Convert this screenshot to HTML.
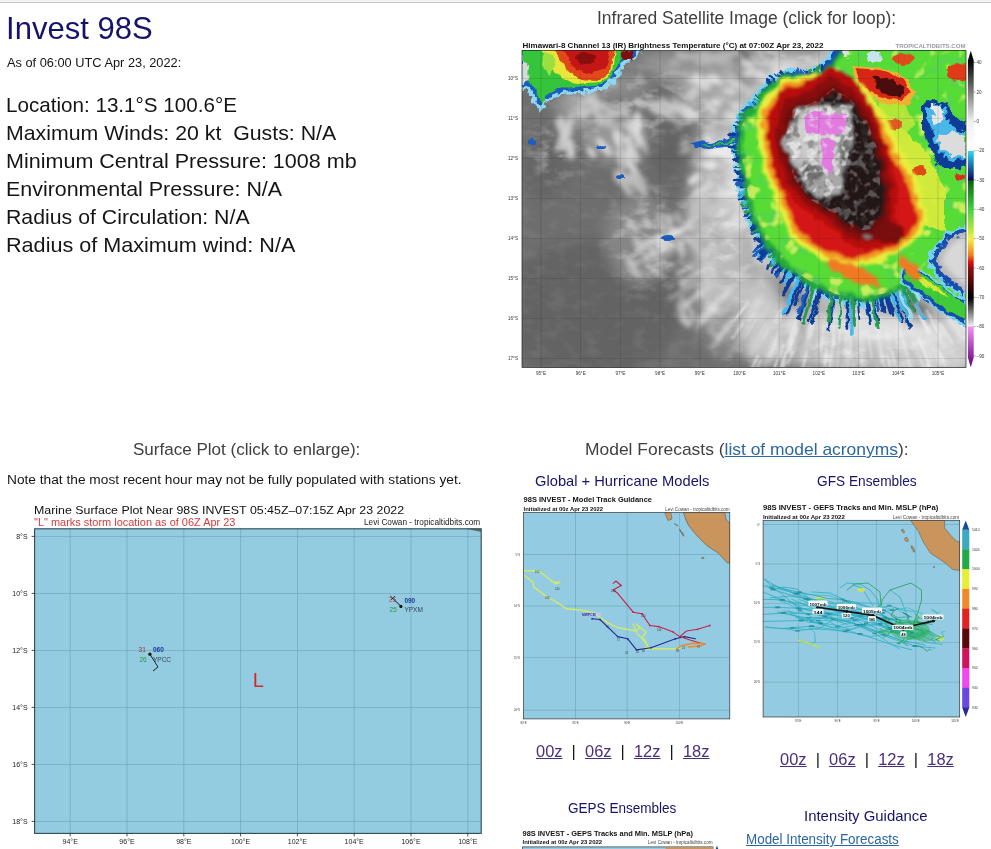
<!DOCTYPE html>
<html><head><meta charset="utf-8"><title>Invest 98S</title>
<style>
html,body{margin:0;padding:0;background:#fff;width:991px;height:849px;overflow:hidden;position:relative}
body{font-family:"Liberation Sans",sans-serif}
.t{position:absolute;white-space:nowrap;line-height:1;transform-origin:0 0}
.t a{color:#4a2f7c;text-decoration:underline}
.topbar{position:absolute;left:0;top:0;width:991px;height:2px;background:#f4f4f4;border-bottom:1px solid #c8c8c8}
svg{position:absolute;display:block}
</style></head><body>
<div class="topbar"></div>
<svg style="left:0;top:0" width="991" height="849" viewBox="0 0 991 849">
<defs>
<clipPath id="satclip"><rect x="522" y="50.5" width="444" height="317"/></clipPath>
<filter id="rough" x="-10%" y="-10%" width="120%" height="120%">
  <feTurbulence type="fractalNoise" baseFrequency="0.12" numOctaves="2" seed="3" result="n"/>
  <feDisplacementMap in="SourceGraphic" in2="n" scale="6" xChannelSelector="R" yChannelSelector="G"/>
</filter>
<filter id="roughB" x="-10%" y="-10%" width="120%" height="120%">
  <feTurbulence type="fractalNoise" baseFrequency="0.16" numOctaves="2" seed="9" result="n"/>
  <feDisplacementMap in="SourceGraphic" in2="n" scale="10" xChannelSelector="R" yChannelSelector="G"/>
</filter>
<filter id="rs" x="-10%" y="-10%" width="120%" height="120%">
  <feTurbulence type="fractalNoise" baseFrequency="0.1" numOctaves="3" seed="13" result="n"/>
  <feDisplacementMap in="SourceGraphic" in2="n" scale="9" xChannelSelector="R" yChannelSelector="G" result="d"/>
  <feGaussianBlur in="d" stdDeviation="1.6"/>
</filter>
<filter id="mot1" x="0" y="0" width="100%" height="100%">
  <feTurbulence type="fractalNoise" baseFrequency="0.09" numOctaves="2" seed="31" result="n"/>
  <feColorMatrix in="n" type="matrix" values="0 0 0 0 0.1  0 0 0 0 0.6  0 0 0 0 0.15  5 0 0 0 -2.7"/>
</filter>
<filter id="mot2" x="0" y="0" width="100%" height="100%">
  <feTurbulence type="fractalNoise" baseFrequency="0.07" numOctaves="2" seed="47" result="n"/>
  <feColorMatrix in="n" type="matrix" values="0 0 0 0 0.92  0 0 0 0 0.92  0 0 0 0 0.15  6 0 0 0 -3.5"/>
</filter>
<filter id="mot3" x="0" y="0" width="100%" height="100%">
  <feTurbulence type="fractalNoise" baseFrequency="0.1" numOctaves="2" seed="5" result="n"/>
  <feColorMatrix in="n" type="matrix" values="0 0 0 0 0.05  0 0 0 0 0.05  0 0 0 0 0.05  6 0 0 0 -3.2"/>
</filter>
<filter id="mot4" x="0" y="0" width="100%" height="100%">
  <feTurbulence type="fractalNoise" baseFrequency="0.12" numOctaves="2" seed="8" result="n"/>
  <feColorMatrix in="n" type="matrix" values="0 0 0 0 0.85  0 0 0 0 0.85  0 0 0 0 0.85  6 0 0 0 -3.0"/>
</filter>
<filter id="soft" x="-50%" y="-50%" width="200%" height="200%"><feGaussianBlur stdDeviation="7"/></filter>
<filter id="soft4" x="-50%" y="-50%" width="200%" height="200%"><feGaussianBlur stdDeviation="4"/></filter>
<filter id="soft2" x="-50%" y="-50%" width="200%" height="200%"><feGaussianBlur stdDeviation="2.5"/></filter>
<filter id="b1" x="-50%" y="-50%" width="200%" height="200%"><feGaussianBlur stdDeviation="1.2"/></filter>
<filter id="b05" x="-50%" y="-50%" width="200%" height="200%"><feGaussianBlur stdDeviation="0.5"/></filter>
<filter id="clouds" x="0" y="0" width="100%" height="100%">
  <feTurbulence type="fractalNoise" baseFrequency="0.06 0.1" numOctaves="3" seed="21" result="n"/>
  <feColorMatrix in="n" type="matrix" values="0 0 0 0 1  0 0 0 0 1  0 0 0 0 1  0 0 0 3.2 -1.45"/>
</filter>
<radialGradient id="lz" cx="0.5" cy="0.5" r="0.5"><stop offset="0" stop-color="#fff"/><stop offset="1" stop-color="#fff" stop-opacity="0"/></radialGradient>
<mask id="cm"><g fill="url(#lz)">
 <ellipse cx="650" cy="110" rx="90" ry="50"/><ellipse cx="655" cy="240" rx="60" ry="70"/><ellipse cx="730" cy="230" rx="50" ry="130"/>
 <ellipse cx="850" cy="350" rx="150" ry="50"/><ellipse cx="560" cy="150" rx="40" ry="40"/><ellipse cx="790" cy="62" rx="60" ry="25"/>
</g></mask>
</defs>
<g clip-path="url(#satclip)">
<rect x="522" y="50.5" width="444" height="317.0" fill="#6e6e6e"/>
<ellipse cx="590" cy="310" rx="90" ry="70" fill="#646464" filter="url(#soft)"/>
<ellipse cx="580" cy="105" rx="25" ry="18" fill="#a8a8a8" opacity="0.8" filter="url(#soft)"/>
<ellipse cx="615" cy="135" rx="35" ry="25" fill="#a0a0a0" opacity="0.8" filter="url(#soft)"/>
<ellipse cx="660" cy="62" rx="25" ry="10" fill="#a0a0a0" opacity="0.8" filter="url(#soft)"/>
<ellipse cx="712" cy="95" rx="35" ry="30" fill="#b0b0b0" opacity="0.85" filter="url(#soft)"/>
<ellipse cx="712" cy="205" rx="28" ry="80" fill="#bcbcbc" opacity="0.9" filter="url(#soft)"/>
<ellipse cx="722" cy="290" rx="25" ry="40" fill="#c4c4c4" opacity="0.9" filter="url(#soft)"/>
<ellipse cx="700" cy="72" rx="45" ry="14" fill="#aaaaaa" opacity="0.85" filter="url(#soft)"/>
<ellipse cx="680" cy="175" rx="15" ry="25" fill="#666666" opacity="0.7" filter="url(#soft)"/>
<ellipse cx="640" cy="240" rx="35" ry="45" fill="#8a8a8a" opacity="0.9" filter="url(#soft)"/>
<ellipse cx="545" cy="170" rx="22" ry="30" fill="#626262" opacity="0.7" filter="url(#soft)"/>
<ellipse cx="790" cy="60" rx="40" ry="12" fill="#b5b5b5" opacity="0.9" filter="url(#soft)"/>
<ellipse cx="745" cy="280" rx="30" ry="40" fill="#b8b8b8" opacity="0.9" filter="url(#soft)"/>
<ellipse cx="810" cy="335" rx="70" ry="32" fill="#b8b8b8" opacity="0.95" filter="url(#soft)"/>
<ellipse cx="890" cy="352" rx="90" ry="22" fill="#c0c0c0" opacity="0.95" filter="url(#soft)"/>
<ellipse cx="950" cy="345" rx="35" ry="30" fill="#d0d0d0" opacity="0.9" filter="url(#soft)"/>
<ellipse cx="860" cy="325" rx="40" ry="15" fill="#e0e0e0" opacity="0.9" filter="url(#soft)"/>
<ellipse cx="760" cy="322" rx="30" ry="40" fill="#c8c8c8" opacity="0.9" filter="url(#soft)"/>
<ellipse cx="900" cy="330" rx="40" ry="14" fill="#e0e0e0" opacity="0.9" filter="url(#soft)"/>
<ellipse cx="725" cy="330" rx="20" ry="30" fill="#909090" opacity="0.7" filter="url(#soft)"/>
<ellipse cx="735" cy="200" rx="12" ry="60" fill="#c8c8c8" opacity="0.9" filter="url(#soft)"/>
<ellipse cx="700" cy="60" rx="40" ry="10" fill="#8a8a8a" opacity="0.7" filter="url(#soft)"/>
<ellipse cx="620" cy="85" rx="30" ry="15" fill="#9a9a9a" opacity="0.7" filter="url(#soft)"/>
<g mask="url(#cm)"><rect x="522" y="50.5" width="444" height="317.0" filter="url(#clouds)" opacity="0.45"/></g>
<rect x="522" y="50.5" width="444" height="317.0" filter="url(#clouds)" opacity="0.06"/>
<g filter="url(#soft2)"><ellipse cx="729.8" cy="91.0" rx="6.9" ry="4.1" transform="rotate(6 729.8 91.0)" fill="#e0e0e0" opacity="0.74"/><ellipse cx="716.2" cy="102.5" rx="6.2" ry="3.6" transform="rotate(25 716.2 102.5)" fill="#e0e0e0" opacity="0.89"/><ellipse cx="686.6" cy="116.3" rx="6.4" ry="4.0" transform="rotate(25 686.6 116.3)" fill="#e0e0e0" opacity="0.88"/><ellipse cx="695.2" cy="90.9" rx="5.7" ry="3.9" transform="rotate(27 695.2 90.9)" fill="#e0e0e0" opacity="0.63"/><ellipse cx="695.7" cy="81.2" rx="6.6" ry="3.4" transform="rotate(22 695.7 81.2)" fill="#e0e0e0" opacity="0.83"/><ellipse cx="689.3" cy="111.6" rx="12.9" ry="3.8" transform="rotate(37 689.3 111.6)" fill="#e0e0e0" opacity="0.89"/><ellipse cx="690.3" cy="96.4" rx="5.6" ry="4.0" transform="rotate(27 690.3 96.4)" fill="#e0e0e0" opacity="0.59"/><ellipse cx="709.9" cy="109.1" rx="9.4" ry="2.3" transform="rotate(47 709.9 109.1)" fill="#e0e0e0" opacity="0.57"/><ellipse cx="732.2" cy="117.0" rx="11.0" ry="4.4" transform="rotate(27 732.2 117.0)" fill="#e0e0e0" opacity="0.64"/><ellipse cx="711.4" cy="107.5" rx="11.1" ry="3.0" transform="rotate(47 711.4 107.5)" fill="#e0e0e0" opacity="0.56"/><ellipse cx="712.8" cy="79.6" rx="7.9" ry="4.5" transform="rotate(6 712.8 79.6)" fill="#e0e0e0" opacity="0.94"/><ellipse cx="735.7" cy="105.5" rx="5.4" ry="3.2" transform="rotate(35 735.7 105.5)" fill="#e0e0e0" opacity="0.59"/><ellipse cx="701.7" cy="81.7" rx="11.7" ry="4.3" transform="rotate(46 701.7 81.7)" fill="#e0e0e0" opacity="0.85"/><ellipse cx="717.2" cy="80.5" rx="8.9" ry="3.9" transform="rotate(38 717.2 80.5)" fill="#e0e0e0" opacity="0.56"/><ellipse cx="590.5" cy="100.3" rx="12.4" ry="2.3" transform="rotate(55 590.5 100.3)" fill="#d8d8d8" opacity="0.74"/><ellipse cx="639.5" cy="103.1" rx="7.1" ry="3.9" transform="rotate(39 639.5 103.1)" fill="#d8d8d8" opacity="0.62"/><ellipse cx="591.4" cy="152.5" rx="6.9" ry="3.3" transform="rotate(54 591.4 152.5)" fill="#d8d8d8" opacity="0.94"/><ellipse cx="629.9" cy="131.1" rx="8.9" ry="2.7" transform="rotate(77 629.9 131.1)" fill="#d8d8d8" opacity="0.59"/><ellipse cx="624.8" cy="112.7" rx="7.2" ry="3.1" transform="rotate(44 624.8 112.7)" fill="#d8d8d8" opacity="0.79"/><ellipse cx="594.0" cy="96.1" rx="6.1" ry="2.2" transform="rotate(79 594.0 96.1)" fill="#d8d8d8" opacity="0.75"/><ellipse cx="628.0" cy="141.7" rx="6.3" ry="4.4" transform="rotate(54 628.0 141.7)" fill="#d8d8d8" opacity="0.73"/><ellipse cx="617.3" cy="136.7" rx="11.1" ry="2.5" transform="rotate(76 617.3 136.7)" fill="#d8d8d8" opacity="0.72"/><ellipse cx="604.1" cy="146.9" rx="12.0" ry="4.1" transform="rotate(51 604.1 146.9)" fill="#d8d8d8" opacity="0.92"/><ellipse cx="633.4" cy="153.2" rx="11.0" ry="4.5" transform="rotate(59 633.4 153.2)" fill="#d8d8d8" opacity="0.85"/><ellipse cx="633.7" cy="126.5" rx="9.0" ry="3.0" transform="rotate(78 633.7 126.5)" fill="#d8d8d8" opacity="0.70"/><ellipse cx="631.8" cy="128.7" rx="10.7" ry="2.8" transform="rotate(39 631.8 128.7)" fill="#d8d8d8" opacity="0.82"/><ellipse cx="598.1" cy="116.6" rx="11.3" ry="2.1" transform="rotate(81 598.1 116.6)" fill="#d8d8d8" opacity="0.79"/><ellipse cx="621.4" cy="135.6" rx="5.5" ry="2.1" transform="rotate(71 621.4 135.6)" fill="#d8d8d8" opacity="0.78"/><ellipse cx="633.9" cy="169.4" rx="7.2" ry="2.4" transform="rotate(93 633.9 169.4)" fill="#e0e0e0" opacity="0.57"/><ellipse cx="630.4" cy="157.4" rx="12.6" ry="2.2" transform="rotate(80 630.4 157.4)" fill="#e0e0e0" opacity="0.58"/><ellipse cx="628.7" cy="157.2" rx="11.8" ry="2.1" transform="rotate(82 628.7 157.2)" fill="#e0e0e0" opacity="0.61"/><ellipse cx="627.3" cy="178.9" rx="11.8" ry="2.2" transform="rotate(45 627.3 178.9)" fill="#e0e0e0" opacity="0.56"/><ellipse cx="637.9" cy="122.3" rx="11.3" ry="4.0" transform="rotate(86 637.9 122.3)" fill="#e0e0e0" opacity="0.92"/><ellipse cx="633.7" cy="169.5" rx="9.3" ry="3.7" transform="rotate(48 633.7 169.5)" fill="#e0e0e0" opacity="0.77"/><ellipse cx="643.7" cy="143.3" rx="10.7" ry="2.4" transform="rotate(69 643.7 143.3)" fill="#e0e0e0" opacity="0.77"/><ellipse cx="637.5" cy="139.3" rx="8.8" ry="2.5" transform="rotate(74 637.5 139.3)" fill="#e0e0e0" opacity="0.93"/><ellipse cx="626.8" cy="159.6" rx="9.5" ry="2.5" transform="rotate(80 626.8 159.6)" fill="#e0e0e0" opacity="0.63"/><ellipse cx="633.2" cy="179.6" rx="7.5" ry="3.7" transform="rotate(62 633.2 179.6)" fill="#e0e0e0" opacity="0.81"/><ellipse cx="621.4" cy="150.0" rx="11.3" ry="2.5" transform="rotate(63 621.4 150.0)" fill="#e0e0e0" opacity="0.64"/><ellipse cx="620.4" cy="160.2" rx="11.7" ry="3.3" transform="rotate(67 620.4 160.2)" fill="#e0e0e0" opacity="0.67"/><ellipse cx="622.7" cy="176.5" rx="8.8" ry="3.7" transform="rotate(59 622.7 176.5)" fill="#e0e0e0" opacity="0.62"/><ellipse cx="616.3" cy="137.8" rx="8.4" ry="3.3" transform="rotate(76 616.3 137.8)" fill="#e0e0e0" opacity="0.83"/><ellipse cx="570.5" cy="148.9" rx="10.5" ry="4.0" transform="rotate(92 570.5 148.9)" fill="#d0d0d0" opacity="0.74"/><ellipse cx="571.0" cy="152.2" rx="8.1" ry="4.2" transform="rotate(86 571.0 152.2)" fill="#d0d0d0" opacity="0.85"/><ellipse cx="560.3" cy="141.4" rx="12.6" ry="3.1" transform="rotate(109 560.3 141.4)" fill="#d0d0d0" opacity="0.82"/><ellipse cx="560.2" cy="122.8" rx="7.6" ry="4.4" transform="rotate(98 560.2 122.8)" fill="#d0d0d0" opacity="0.79"/><ellipse cx="570.3" cy="132.6" rx="6.2" ry="3.1" transform="rotate(110 570.3 132.6)" fill="#d0d0d0" opacity="0.62"/><ellipse cx="565.9" cy="130.6" rx="7.9" ry="2.2" transform="rotate(110 565.9 130.6)" fill="#d0d0d0" opacity="0.65"/><ellipse cx="569.5" cy="126.2" rx="8.4" ry="2.1" transform="rotate(94 569.5 126.2)" fill="#d0d0d0" opacity="0.75"/><ellipse cx="565.2" cy="127.2" rx="10.1" ry="2.1" transform="rotate(112 565.2 127.2)" fill="#d0d0d0" opacity="0.74"/><ellipse cx="567.3" cy="135.3" rx="5.2" ry="2.1" transform="rotate(101 567.3 135.3)" fill="#d0d0d0" opacity="0.74"/><ellipse cx="563.3" cy="139.4" rx="12.0" ry="3.3" transform="rotate(91 563.3 139.4)" fill="#d0d0d0" opacity="0.78"/><ellipse cx="570.5" cy="121.1" rx="10.3" ry="3.4" transform="rotate(101 570.5 121.1)" fill="#d0d0d0" opacity="0.62"/><ellipse cx="569.9" cy="148.6" rx="7.2" ry="4.4" transform="rotate(68 569.9 148.6)" fill="#d0d0d0" opacity="0.77"/><ellipse cx="561.0" cy="126.8" rx="10.1" ry="3.8" transform="rotate(89 561.0 126.8)" fill="#d0d0d0" opacity="0.65"/><ellipse cx="566.5" cy="136.1" rx="8.1" ry="3.0" transform="rotate(88 566.5 136.1)" fill="#d0d0d0" opacity="0.70"/><ellipse cx="654.7" cy="109.9" rx="7.3" ry="4.0" transform="rotate(43 654.7 109.9)" fill="#c8c8c8" opacity="0.85"/><ellipse cx="660.9" cy="109.5" rx="10.9" ry="2.6" transform="rotate(35 660.9 109.5)" fill="#c8c8c8" opacity="0.57"/><ellipse cx="680.0" cy="111.1" rx="11.2" ry="3.5" transform="rotate(37 680.0 111.1)" fill="#c8c8c8" opacity="0.72"/><ellipse cx="653.7" cy="104.1" rx="11.0" ry="4.5" transform="rotate(6 653.7 104.1)" fill="#c8c8c8" opacity="0.74"/><ellipse cx="674.4" cy="106.1" rx="6.9" ry="3.9" transform="rotate(1 674.4 106.1)" fill="#c8c8c8" opacity="0.68"/><ellipse cx="668.8" cy="109.9" rx="12.6" ry="3.2" transform="rotate(15 668.8 109.9)" fill="#c8c8c8" opacity="0.62"/><ellipse cx="675.5" cy="101.0" rx="5.1" ry="2.9" transform="rotate(35 675.5 101.0)" fill="#c8c8c8" opacity="0.65"/><ellipse cx="665.0" cy="101.8" rx="7.2" ry="4.3" transform="rotate(38 665.0 101.8)" fill="#c8c8c8" opacity="0.59"/><ellipse cx="679.7" cy="109.4" rx="6.1" ry="2.9" transform="rotate(43 679.7 109.4)" fill="#c8c8c8" opacity="0.62"/><ellipse cx="673.9" cy="118.7" rx="12.3" ry="3.9" transform="rotate(41 673.9 118.7)" fill="#c8c8c8" opacity="0.60"/><ellipse cx="671.9" cy="119.2" rx="9.2" ry="2.0" transform="rotate(10 671.9 119.2)" fill="#c8c8c8" opacity="0.73"/><ellipse cx="663.4" cy="114.5" rx="6.4" ry="2.0" transform="rotate(28 663.4 114.5)" fill="#c8c8c8" opacity="0.95"/><ellipse cx="665.5" cy="113.6" rx="10.7" ry="3.7" transform="rotate(35 665.5 113.6)" fill="#c8c8c8" opacity="0.56"/><ellipse cx="672.1" cy="108.7" rx="8.1" ry="4.0" transform="rotate(1 672.1 108.7)" fill="#c8c8c8" opacity="0.92"/><ellipse cx="730.7" cy="153.7" rx="12.4" ry="2.5" transform="rotate(-5 730.7 153.7)" fill="#f0f0f0" opacity="0.91"/><ellipse cx="714.6" cy="150.6" rx="5.8" ry="3.7" transform="rotate(-34 714.6 150.6)" fill="#f0f0f0" opacity="0.76"/><ellipse cx="683.6" cy="143.2" rx="5.9" ry="2.7" transform="rotate(-29 683.6 143.2)" fill="#f0f0f0" opacity="0.82"/><ellipse cx="713.6" cy="152.5" rx="11.5" ry="3.8" transform="rotate(-5 713.6 152.5)" fill="#f0f0f0" opacity="0.76"/><ellipse cx="728.2" cy="145.6" rx="8.0" ry="3.0" transform="rotate(-34 728.2 145.6)" fill="#f0f0f0" opacity="0.63"/><ellipse cx="719.3" cy="144.9" rx="8.4" ry="2.2" transform="rotate(-27 719.3 144.9)" fill="#f0f0f0" opacity="0.90"/><ellipse cx="730.0" cy="144.2" rx="12.3" ry="3.4" transform="rotate(2 730.0 144.2)" fill="#f0f0f0" opacity="0.61"/><ellipse cx="739.4" cy="146.1" rx="6.1" ry="2.2" transform="rotate(-32 739.4 146.1)" fill="#f0f0f0" opacity="0.55"/><ellipse cx="728.6" cy="152.9" rx="7.1" ry="2.7" transform="rotate(11 728.6 152.9)" fill="#f0f0f0" opacity="0.64"/><ellipse cx="736.0" cy="153.5" rx="8.3" ry="3.1" transform="rotate(-15 736.0 153.5)" fill="#f0f0f0" opacity="0.69"/><ellipse cx="724.2" cy="150.6" rx="12.9" ry="2.3" transform="rotate(-20 724.2 150.6)" fill="#f0f0f0" opacity="0.76"/><ellipse cx="729.5" cy="156.9" rx="11.6" ry="2.2" transform="rotate(3 729.5 156.9)" fill="#f0f0f0" opacity="0.64"/><ellipse cx="707.9" cy="138.5" rx="5.2" ry="3.1" transform="rotate(9 707.9 138.5)" fill="#f0f0f0" opacity="0.67"/><ellipse cx="683.7" cy="150.8" rx="7.2" ry="2.2" transform="rotate(-25 683.7 150.8)" fill="#f0f0f0" opacity="0.90"/><ellipse cx="753.0" cy="181.9" rx="8.8" ry="3.7" transform="rotate(-28 753.0 181.9)" fill="#e8e8e8" opacity="0.70"/><ellipse cx="744.6" cy="188.0" rx="12.1" ry="3.4" transform="rotate(-4 744.6 188.0)" fill="#e8e8e8" opacity="0.88"/><ellipse cx="706.6" cy="187.1" rx="9.4" ry="2.4" transform="rotate(-34 706.6 187.1)" fill="#e8e8e8" opacity="0.71"/><ellipse cx="756.3" cy="165.2" rx="12.7" ry="4.4" transform="rotate(-25 756.3 165.2)" fill="#e8e8e8" opacity="0.80"/><ellipse cx="711.2" cy="165.5" rx="5.2" ry="3.8" transform="rotate(-34 711.2 165.5)" fill="#e8e8e8" opacity="0.75"/><ellipse cx="710.0" cy="164.4" rx="8.1" ry="3.2" transform="rotate(3 710.0 164.4)" fill="#e8e8e8" opacity="0.76"/><ellipse cx="758.0" cy="178.4" rx="11.7" ry="3.3" transform="rotate(-44 758.0 178.4)" fill="#e8e8e8" opacity="0.92"/><ellipse cx="738.1" cy="184.8" rx="8.5" ry="2.0" transform="rotate(-1 738.1 184.8)" fill="#e8e8e8" opacity="0.57"/><ellipse cx="697.5" cy="191.9" rx="7.4" ry="2.8" transform="rotate(-31 697.5 191.9)" fill="#e8e8e8" opacity="0.74"/><ellipse cx="745.2" cy="176.0" rx="6.0" ry="3.4" transform="rotate(-27 745.2 176.0)" fill="#e8e8e8" opacity="0.91"/><ellipse cx="694.4" cy="179.1" rx="8.4" ry="4.0" transform="rotate(-36 694.4 179.1)" fill="#e8e8e8" opacity="0.87"/><ellipse cx="728.6" cy="193.9" rx="11.5" ry="3.3" transform="rotate(-9 728.6 193.9)" fill="#e8e8e8" opacity="0.60"/><ellipse cx="742.8" cy="171.6" rx="9.5" ry="2.4" transform="rotate(2 742.8 171.6)" fill="#e8e8e8" opacity="0.71"/><ellipse cx="735.9" cy="182.3" rx="10.5" ry="2.5" transform="rotate(-6 735.9 182.3)" fill="#e8e8e8" opacity="0.71"/><ellipse cx="605.7" cy="122.4" rx="10.3" ry="3.9" transform="rotate(29 605.7 122.4)" fill="#c8c8c8" opacity="0.74"/><ellipse cx="616.5" cy="111.3" rx="5.3" ry="2.8" transform="rotate(29 616.5 111.3)" fill="#c8c8c8" opacity="0.56"/><ellipse cx="583.9" cy="113.7" rx="6.4" ry="4.4" transform="rotate(11 583.9 113.7)" fill="#c8c8c8" opacity="0.67"/><ellipse cx="583.7" cy="109.2" rx="5.1" ry="3.5" transform="rotate(12 583.7 109.2)" fill="#c8c8c8" opacity="0.59"/><ellipse cx="594.1" cy="102.7" rx="7.0" ry="4.4" transform="rotate(21 594.1 102.7)" fill="#c8c8c8" opacity="0.83"/><ellipse cx="606.3" cy="116.2" rx="8.6" ry="3.1" transform="rotate(37 606.3 116.2)" fill="#c8c8c8" opacity="0.61"/><ellipse cx="581.8" cy="102.5" rx="5.2" ry="3.2" transform="rotate(10 581.8 102.5)" fill="#c8c8c8" opacity="0.73"/><ellipse cx="602.9" cy="105.8" rx="10.4" ry="3.3" transform="rotate(21 602.9 105.8)" fill="#c8c8c8" opacity="0.76"/><ellipse cx="581.3" cy="113.1" rx="6.4" ry="4.4" transform="rotate(33 581.3 113.1)" fill="#c8c8c8" opacity="0.76"/><ellipse cx="588.6" cy="101.9" rx="6.3" ry="2.9" transform="rotate(14 588.6 101.9)" fill="#c8c8c8" opacity="0.90"/><ellipse cx="591.9" cy="110.2" rx="8.1" ry="2.9" transform="rotate(14 591.9 110.2)" fill="#c8c8c8" opacity="0.82"/><ellipse cx="613.4" cy="113.6" rx="6.9" ry="3.9" transform="rotate(7 613.4 113.6)" fill="#c8c8c8" opacity="0.83"/><ellipse cx="597.5" cy="104.6" rx="12.8" ry="2.2" transform="rotate(21 597.5 104.6)" fill="#c8c8c8" opacity="0.81"/><ellipse cx="581.8" cy="118.3" rx="5.0" ry="2.4" transform="rotate(49 581.8 118.3)" fill="#c8c8c8" opacity="0.57"/><ellipse cx="641.1" cy="178.2" rx="8.1" ry="2.7" transform="rotate(48 641.1 178.2)" fill="#bcbcbc" opacity="0.80"/><ellipse cx="620.1" cy="180.2" rx="8.9" ry="4.3" transform="rotate(39 620.1 180.2)" fill="#bcbcbc" opacity="0.81"/><ellipse cx="639.2" cy="188.6" rx="11.8" ry="3.0" transform="rotate(52 639.2 188.6)" fill="#bcbcbc" opacity="0.59"/><ellipse cx="621.2" cy="176.3" rx="11.8" ry="2.4" transform="rotate(39 621.2 176.3)" fill="#bcbcbc" opacity="0.68"/><ellipse cx="623.4" cy="177.7" rx="8.5" ry="3.2" transform="rotate(41 623.4 177.7)" fill="#bcbcbc" opacity="0.82"/><ellipse cx="641.3" cy="185.7" rx="9.4" ry="2.4" transform="rotate(34 641.3 185.7)" fill="#bcbcbc" opacity="0.67"/><ellipse cx="636.1" cy="177.5" rx="8.8" ry="2.6" transform="rotate(60 636.1 177.5)" fill="#bcbcbc" opacity="0.62"/><ellipse cx="632.2" cy="181.3" rx="9.8" ry="2.1" transform="rotate(54 632.2 181.3)" fill="#bcbcbc" opacity="0.66"/><ellipse cx="626.9" cy="186.9" rx="12.4" ry="3.4" transform="rotate(41 626.9 186.9)" fill="#bcbcbc" opacity="0.59"/><ellipse cx="619.9" cy="178.6" rx="11.8" ry="2.0" transform="rotate(56 619.9 178.6)" fill="#bcbcbc" opacity="0.68"/><ellipse cx="638.1" cy="184.3" rx="12.3" ry="3.0" transform="rotate(23 638.1 184.3)" fill="#bcbcbc" opacity="0.70"/><ellipse cx="632.8" cy="177.9" rx="10.1" ry="4.1" transform="rotate(15 632.8 177.9)" fill="#bcbcbc" opacity="0.94"/><ellipse cx="625.1" cy="186.6" rx="12.4" ry="3.6" transform="rotate(62 625.1 186.6)" fill="#bcbcbc" opacity="0.85"/><ellipse cx="641.7" cy="190.4" rx="9.1" ry="2.6" transform="rotate(47 641.7 190.4)" fill="#bcbcbc" opacity="0.88"/><ellipse cx="630.4" cy="260.9" rx="8.3" ry="2.5" transform="rotate(40 630.4 260.9)" fill="#c8c8c8" opacity="0.85"/><ellipse cx="646.8" cy="221.0" rx="6.9" ry="2.1" transform="rotate(49 646.8 221.0)" fill="#c8c8c8" opacity="0.61"/><ellipse cx="646.3" cy="223.1" rx="5.1" ry="3.7" transform="rotate(82 646.3 223.1)" fill="#c8c8c8" opacity="0.84"/><ellipse cx="633.4" cy="269.0" rx="11.7" ry="4.4" transform="rotate(54 633.4 269.0)" fill="#c8c8c8" opacity="0.76"/><ellipse cx="654.7" cy="270.7" rx="12.6" ry="2.8" transform="rotate(36 654.7 270.7)" fill="#c8c8c8" opacity="0.79"/><ellipse cx="661.1" cy="222.7" rx="12.1" ry="2.2" transform="rotate(69 661.1 222.7)" fill="#c8c8c8" opacity="0.86"/><ellipse cx="670.8" cy="233.6" rx="9.0" ry="2.3" transform="rotate(70 670.8 233.6)" fill="#c8c8c8" opacity="0.94"/><ellipse cx="669.0" cy="219.8" rx="6.0" ry="4.5" transform="rotate(82 669.0 219.8)" fill="#c8c8c8" opacity="0.85"/><ellipse cx="661.7" cy="241.1" rx="10.0" ry="4.3" transform="rotate(57 661.7 241.1)" fill="#c8c8c8" opacity="0.71"/><ellipse cx="640.4" cy="242.6" rx="9.7" ry="2.6" transform="rotate(42 640.4 242.6)" fill="#c8c8c8" opacity="0.64"/><ellipse cx="633.4" cy="226.7" rx="8.4" ry="3.9" transform="rotate(55 633.4 226.7)" fill="#c8c8c8" opacity="0.82"/><ellipse cx="650.0" cy="246.9" rx="12.4" ry="2.4" transform="rotate(68 650.0 246.9)" fill="#c8c8c8" opacity="0.67"/><ellipse cx="641.8" cy="251.3" rx="12.9" ry="2.1" transform="rotate(50 641.8 251.3)" fill="#c8c8c8" opacity="0.91"/><ellipse cx="636.1" cy="242.8" rx="6.9" ry="2.3" transform="rotate(70 636.1 242.8)" fill="#c8c8c8" opacity="0.90"/><ellipse cx="695.2" cy="242.7" rx="7.3" ry="4.1" transform="rotate(62 695.2 242.7)" fill="#c0c0c0" opacity="0.64"/><ellipse cx="693.7" cy="211.0" rx="11.6" ry="3.0" transform="rotate(89 693.7 211.0)" fill="#c0c0c0" opacity="0.81"/><ellipse cx="706.9" cy="210.2" rx="7.0" ry="3.5" transform="rotate(57 706.9 210.2)" fill="#c0c0c0" opacity="0.77"/><ellipse cx="681.1" cy="240.2" rx="11.3" ry="4.3" transform="rotate(81 681.1 240.2)" fill="#c0c0c0" opacity="0.63"/><ellipse cx="681.1" cy="254.8" rx="10.2" ry="2.3" transform="rotate(78 681.1 254.8)" fill="#c0c0c0" opacity="0.67"/><ellipse cx="699.2" cy="204.3" rx="11.7" ry="2.7" transform="rotate(94 699.2 204.3)" fill="#c0c0c0" opacity="0.93"/><ellipse cx="681.4" cy="249.2" rx="8.2" ry="4.4" transform="rotate(66 681.4 249.2)" fill="#c0c0c0" opacity="0.81"/><ellipse cx="705.5" cy="202.6" rx="9.1" ry="4.4" transform="rotate(93 705.5 202.6)" fill="#c0c0c0" opacity="0.92"/><ellipse cx="693.9" cy="244.7" rx="11.9" ry="3.2" transform="rotate(47 693.9 244.7)" fill="#c0c0c0" opacity="0.86"/><ellipse cx="702.5" cy="228.3" rx="10.1" ry="2.1" transform="rotate(91 702.5 228.3)" fill="#c0c0c0" opacity="0.74"/><ellipse cx="678.1" cy="218.1" rx="7.1" ry="2.9" transform="rotate(67 678.1 218.1)" fill="#c0c0c0" opacity="0.83"/><ellipse cx="701.6" cy="205.6" rx="9.6" ry="3.9" transform="rotate(62 701.6 205.6)" fill="#c0c0c0" opacity="0.69"/><ellipse cx="674.9" cy="230.4" rx="6.0" ry="3.6" transform="rotate(46 674.9 230.4)" fill="#c0c0c0" opacity="0.93"/><ellipse cx="695.4" cy="210.8" rx="9.2" ry="2.7" transform="rotate(67 695.4 210.8)" fill="#c0c0c0" opacity="0.88"/><ellipse cx="713.2" cy="308.2" rx="10.7" ry="3.5" transform="rotate(37 713.2 308.2)" fill="#c4c4c4" opacity="0.94"/><ellipse cx="685.1" cy="320.8" rx="9.0" ry="4.2" transform="rotate(47 685.1 320.8)" fill="#c4c4c4" opacity="0.85"/><ellipse cx="715.7" cy="281.6" rx="7.3" ry="4.1" transform="rotate(58 715.7 281.6)" fill="#c4c4c4" opacity="0.71"/><ellipse cx="703.0" cy="319.2" rx="5.1" ry="4.5" transform="rotate(58 703.0 319.2)" fill="#c4c4c4" opacity="0.55"/><ellipse cx="703.4" cy="294.6" rx="7.9" ry="3.4" transform="rotate(39 703.4 294.6)" fill="#c4c4c4" opacity="0.81"/><ellipse cx="692.7" cy="316.4" rx="7.2" ry="2.8" transform="rotate(85 692.7 316.4)" fill="#c4c4c4" opacity="0.88"/><ellipse cx="704.9" cy="288.2" rx="6.1" ry="3.5" transform="rotate(57 704.9 288.2)" fill="#c4c4c4" opacity="0.87"/><ellipse cx="680.1" cy="306.4" rx="5.3" ry="3.3" transform="rotate(55 680.1 306.4)" fill="#c4c4c4" opacity="0.70"/><ellipse cx="682.4" cy="283.2" rx="6.0" ry="2.6" transform="rotate(73 682.4 283.2)" fill="#c4c4c4" opacity="0.66"/><ellipse cx="713.8" cy="289.9" rx="12.9" ry="2.3" transform="rotate(62 713.8 289.9)" fill="#c4c4c4" opacity="0.60"/><ellipse cx="708.1" cy="273.1" rx="8.0" ry="4.2" transform="rotate(48 708.1 273.1)" fill="#c4c4c4" opacity="0.71"/><ellipse cx="684.8" cy="317.0" rx="9.4" ry="2.9" transform="rotate(68 684.8 317.0)" fill="#c4c4c4" opacity="0.80"/><ellipse cx="715.0" cy="334.2" rx="10.0" ry="3.6" transform="rotate(41 715.0 334.2)" fill="#c4c4c4" opacity="0.55"/><ellipse cx="686.0" cy="304.6" rx="11.6" ry="3.7" transform="rotate(53 686.0 304.6)" fill="#c4c4c4" opacity="0.66"/><ellipse cx="724.7" cy="54.5" rx="12.7" ry="4.0" transform="rotate(-7 724.7 54.5)" fill="#b8b8b8" opacity="0.88"/><ellipse cx="707.4" cy="61.1" rx="6.0" ry="4.4" transform="rotate(8 707.4 61.1)" fill="#b8b8b8" opacity="0.86"/><ellipse cx="675.3" cy="62.9" rx="5.8" ry="2.4" transform="rotate(21 675.3 62.9)" fill="#b8b8b8" opacity="0.78"/><ellipse cx="699.9" cy="54.4" rx="11.6" ry="3.8" transform="rotate(-14 699.9 54.4)" fill="#b8b8b8" opacity="0.70"/><ellipse cx="705.8" cy="59.0" rx="8.4" ry="2.4" transform="rotate(23 705.8 59.0)" fill="#b8b8b8" opacity="0.66"/><ellipse cx="723.9" cy="60.6" rx="12.5" ry="2.2" transform="rotate(-4 723.9 60.6)" fill="#b8b8b8" opacity="0.86"/><ellipse cx="682.4" cy="55.7" rx="8.1" ry="4.0" transform="rotate(20 682.4 55.7)" fill="#b8b8b8" opacity="0.83"/><ellipse cx="700.3" cy="62.0" rx="7.4" ry="3.0" transform="rotate(-1 700.3 62.0)" fill="#b8b8b8" opacity="0.79"/><ellipse cx="725.3" cy="64.7" rx="12.3" ry="2.6" transform="rotate(11 725.3 64.7)" fill="#b8b8b8" opacity="0.69"/><ellipse cx="722.6" cy="58.2" rx="9.1" ry="2.4" transform="rotate(-15 722.6 58.2)" fill="#b8b8b8" opacity="0.91"/><ellipse cx="689.2" cy="58.4" rx="12.1" ry="2.3" transform="rotate(-6 689.2 58.4)" fill="#b8b8b8" opacity="0.57"/><ellipse cx="707.1" cy="58.2" rx="6.6" ry="4.5" transform="rotate(26 707.1 58.2)" fill="#b8b8b8" opacity="0.73"/><ellipse cx="708.5" cy="56.5" rx="10.6" ry="3.9" transform="rotate(6 708.5 56.5)" fill="#b8b8b8" opacity="0.82"/><ellipse cx="689.6" cy="55.4" rx="7.0" ry="2.4" transform="rotate(16 689.6 55.4)" fill="#b8b8b8" opacity="0.69"/><ellipse cx="783.0" cy="71.0" rx="9.7" ry="2.4" transform="rotate(-7 783.0 71.0)" fill="#c8c8c8" opacity="0.70"/><ellipse cx="775.4" cy="77.6" rx="10.7" ry="4.1" transform="rotate(-2 775.4 77.6)" fill="#c8c8c8" opacity="0.66"/><ellipse cx="748.7" cy="71.3" rx="5.9" ry="2.0" transform="rotate(-30 748.7 71.3)" fill="#c8c8c8" opacity="0.95"/><ellipse cx="780.9" cy="69.2" rx="8.2" ry="2.4" transform="rotate(-9 780.9 69.2)" fill="#c8c8c8" opacity="0.77"/><ellipse cx="747.3" cy="63.3" rx="7.1" ry="3.1" transform="rotate(9 747.3 63.3)" fill="#c8c8c8" opacity="0.94"/><ellipse cx="747.6" cy="75.3" rx="6.9" ry="3.3" transform="rotate(5 747.6 75.3)" fill="#c8c8c8" opacity="0.72"/><ellipse cx="781.1" cy="74.0" rx="7.4" ry="2.6" transform="rotate(14 781.1 74.0)" fill="#c8c8c8" opacity="0.82"/><ellipse cx="756.4" cy="63.2" rx="8.6" ry="3.6" transform="rotate(6 756.4 63.2)" fill="#c8c8c8" opacity="0.59"/><ellipse cx="787.8" cy="65.2" rx="9.5" ry="4.5" transform="rotate(-12 787.8 65.2)" fill="#c8c8c8" opacity="0.69"/><ellipse cx="774.5" cy="63.3" rx="5.9" ry="3.9" transform="rotate(-19 774.5 63.3)" fill="#c8c8c8" opacity="0.77"/><ellipse cx="759.2" cy="73.0" rx="5.5" ry="2.2" transform="rotate(-22 759.2 73.0)" fill="#c8c8c8" opacity="0.76"/><ellipse cx="776.7" cy="72.8" rx="6.5" ry="2.7" transform="rotate(7 776.7 72.8)" fill="#c8c8c8" opacity="0.89"/><ellipse cx="770.7" cy="75.8" rx="10.2" ry="2.4" transform="rotate(8 770.7 75.8)" fill="#c8c8c8" opacity="0.60"/><ellipse cx="752.6" cy="74.1" rx="12.1" ry="3.8" transform="rotate(3 752.6 74.1)" fill="#c8c8c8" opacity="0.67"/></g>
<ellipse cx="668" cy="150" rx="16" ry="28" fill="#5e5e5e" opacity="0.7" filter="url(#soft)"/>
<g filter="url(#soft2)"><line x1="693.5" y1="222.2" x2="682.1" y2="225.9" stroke="#f4f4f4" stroke-width="2.9" opacity="0.47" stroke-linecap="round"/><line x1="713.9" y1="262.7" x2="680.8" y2="285.1" stroke="#f4f4f4" stroke-width="3.1" opacity="0.45" stroke-linecap="round"/><line x1="1014.7" y1="264.5" x2="1030.7" y2="273.4" stroke="#f4f4f4" stroke-width="3.2" opacity="0.60" stroke-linecap="round"/><line x1="1001.9" y1="254.5" x2="1039.2" y2="274.5" stroke="#f4f4f4" stroke-width="2.2" opacity="0.54" stroke-linecap="round"/><line x1="708.3" y1="287.5" x2="674.9" y2="315.0" stroke="#f4f4f4" stroke-width="3.3" opacity="0.29" stroke-linecap="round"/><line x1="699.4" y1="282.6" x2="680.5" y2="296.6" stroke="#f4f4f4" stroke-width="1.7" opacity="0.34" stroke-linecap="round"/><line x1="822.7" y1="320.4" x2="816.0" y2="359.6" stroke="#f4f4f4" stroke-width="1.9" opacity="0.35" stroke-linecap="round"/><line x1="983.6" y1="294.4" x2="1011.4" y2="319.5" stroke="#f4f4f4" stroke-width="2.1" opacity="0.39" stroke-linecap="round"/><line x1="692.7" y1="264.9" x2="677.0" y2="274.2" stroke="#f4f4f4" stroke-width="4.0" opacity="0.52" stroke-linecap="round"/><line x1="910.5" y1="320.3" x2="920.4" y2="343.7" stroke="#f4f4f4" stroke-width="3.1" opacity="0.41" stroke-linecap="round"/><line x1="962.7" y1="288.2" x2="973.1" y2="298.8" stroke="#f4f4f4" stroke-width="2.8" opacity="0.46" stroke-linecap="round"/><line x1="796.6" y1="307.6" x2="787.0" y2="333.0" stroke="#f4f4f4" stroke-width="3.5" opacity="0.45" stroke-linecap="round"/><line x1="902.6" y1="336.7" x2="909.6" y2="357.8" stroke="#f4f4f4" stroke-width="3.5" opacity="0.25" stroke-linecap="round"/><line x1="984.4" y1="276.9" x2="995.1" y2="285.2" stroke="#f4f4f4" stroke-width="2.0" opacity="0.58" stroke-linecap="round"/><line x1="733.4" y1="286.7" x2="723.3" y2="296.9" stroke="#f4f4f4" stroke-width="3.3" opacity="0.50" stroke-linecap="round"/><line x1="961.5" y1="300.7" x2="982.0" y2="323.9" stroke="#f4f4f4" stroke-width="1.7" opacity="0.29" stroke-linecap="round"/><line x1="1014.8" y1="267.2" x2="1033.0" y2="277.6" stroke="#f4f4f4" stroke-width="2.3" opacity="0.26" stroke-linecap="round"/><line x1="776.9" y1="308.7" x2="764.5" y2="332.6" stroke="#f4f4f4" stroke-width="2.4" opacity="0.37" stroke-linecap="round"/><line x1="991.1" y1="261.0" x2="1026.0" y2="282.8" stroke="#f4f4f4" stroke-width="3.9" opacity="0.57" stroke-linecap="round"/><line x1="694.7" y1="281.4" x2="669.1" y2="299.7" stroke="#f4f4f4" stroke-width="3.0" opacity="0.50" stroke-linecap="round"/><line x1="677.1" y1="241.7" x2="649.3" y2="253.1" stroke="#f4f4f4" stroke-width="3.3" opacity="0.55" stroke-linecap="round"/><line x1="821.5" y1="310.9" x2="816.2" y2="338.7" stroke="#f4f4f4" stroke-width="2.4" opacity="0.29" stroke-linecap="round"/><line x1="998.2" y1="266.7" x2="1034.2" y2="289.4" stroke="#f4f4f4" stroke-width="2.9" opacity="0.54" stroke-linecap="round"/><line x1="955.2" y1="293.5" x2="982.3" y2="324.2" stroke="#f4f4f4" stroke-width="3.2" opacity="0.50" stroke-linecap="round"/><line x1="918.5" y1="327.0" x2="927.1" y2="345.9" stroke="#f4f4f4" stroke-width="2.0" opacity="0.31" stroke-linecap="round"/><line x1="947.9" y1="286.5" x2="963.0" y2="303.8" stroke="#f4f4f4" stroke-width="3.7" opacity="0.44" stroke-linecap="round"/><line x1="886.2" y1="334.3" x2="894.9" y2="371.2" stroke="#f4f4f4" stroke-width="2.1" opacity="0.57" stroke-linecap="round"/><line x1="684.2" y1="230.6" x2="671.5" y2="235.2" stroke="#f4f4f4" stroke-width="3.2" opacity="0.57" stroke-linecap="round"/><line x1="885.1" y1="321.1" x2="889.2" y2="337.8" stroke="#f4f4f4" stroke-width="1.8" opacity="0.48" stroke-linecap="round"/><line x1="925.7" y1="336.0" x2="935.4" y2="356.5" stroke="#f4f4f4" stroke-width="1.8" opacity="0.48" stroke-linecap="round"/><line x1="693.6" y1="227.3" x2="652.1" y2="242.2" stroke="#f4f4f4" stroke-width="3.2" opacity="0.52" stroke-linecap="round"/><line x1="682.2" y1="245.7" x2="655.5" y2="257.6" stroke="#f4f4f4" stroke-width="1.9" opacity="0.39" stroke-linecap="round"/><line x1="812.5" y1="319.4" x2="807.1" y2="342.0" stroke="#f4f4f4" stroke-width="2.5" opacity="0.54" stroke-linecap="round"/><line x1="900.6" y1="341.8" x2="905.6" y2="358.1" stroke="#f4f4f4" stroke-width="3.1" opacity="0.42" stroke-linecap="round"/><line x1="917.9" y1="332.0" x2="934.1" y2="369.1" stroke="#f4f4f4" stroke-width="1.8" opacity="0.53" stroke-linecap="round"/><line x1="985.6" y1="269.2" x2="1020.2" y2="293.6" stroke="#f4f4f4" stroke-width="3.9" opacity="0.57" stroke-linecap="round"/><line x1="894.6" y1="336.7" x2="905.4" y2="374.9" stroke="#f4f4f4" stroke-width="1.7" opacity="0.54" stroke-linecap="round"/><line x1="733.5" y1="318.7" x2="718.3" y2="338.2" stroke="#f4f4f4" stroke-width="3.1" opacity="0.52" stroke-linecap="round"/><line x1="832.6" y1="340.2" x2="831.1" y2="356.6" stroke="#f4f4f4" stroke-width="1.6" opacity="0.33" stroke-linecap="round"/><line x1="680.2" y1="230.7" x2="641.1" y2="244.4" stroke="#f4f4f4" stroke-width="3.9" opacity="0.57" stroke-linecap="round"/><line x1="813.5" y1="320.5" x2="807.1" y2="348.3" stroke="#f4f4f4" stroke-width="3.4" opacity="0.50" stroke-linecap="round"/><line x1="983.2" y1="252.0" x2="993.7" y2="258.2" stroke="#f4f4f4" stroke-width="2.1" opacity="0.39" stroke-linecap="round"/><line x1="887.8" y1="338.8" x2="895.5" y2="371.1" stroke="#f4f4f4" stroke-width="2.2" opacity="0.37" stroke-linecap="round"/><line x1="688.5" y1="266.2" x2="678.1" y2="272.4" stroke="#f4f4f4" stroke-width="2.3" opacity="0.54" stroke-linecap="round"/><line x1="819.3" y1="317.9" x2="814.9" y2="340.0" stroke="#f4f4f4" stroke-width="3.2" opacity="0.31" stroke-linecap="round"/><line x1="938.6" y1="326.7" x2="949.9" y2="346.1" stroke="#f4f4f4" stroke-width="2.5" opacity="0.60" stroke-linecap="round"/><line x1="690.0" y1="237.4" x2="679.6" y2="241.7" stroke="#f4f4f4" stroke-width="1.9" opacity="0.59" stroke-linecap="round"/><line x1="758.8" y1="299.5" x2="736.6" y2="331.3" stroke="#f4f4f4" stroke-width="3.7" opacity="0.50" stroke-linecap="round"/><line x1="1004.6" y1="258.1" x2="1020.8" y2="267.0" stroke="#f4f4f4" stroke-width="2.1" opacity="0.39" stroke-linecap="round"/><line x1="875.6" y1="345.7" x2="878.9" y2="366.8" stroke="#f4f4f4" stroke-width="1.9" opacity="0.30" stroke-linecap="round"/><line x1="847.2" y1="323.1" x2="847.0" y2="358.3" stroke="#f4f4f4" stroke-width="3.1" opacity="0.51" stroke-linecap="round"/><line x1="960.4" y1="302.0" x2="981.7" y2="326.6" stroke="#f4f4f4" stroke-width="1.6" opacity="0.39" stroke-linecap="round"/><line x1="772.1" y1="302.4" x2="752.0" y2="336.9" stroke="#f4f4f4" stroke-width="2.0" opacity="0.29" stroke-linecap="round"/><line x1="746.7" y1="328.3" x2="728.0" y2="357.2" stroke="#f4f4f4" stroke-width="2.8" opacity="0.36" stroke-linecap="round"/><line x1="934.8" y1="292.9" x2="945.0" y2="307.1" stroke="#f4f4f4" stroke-width="3.1" opacity="0.34" stroke-linecap="round"/><line x1="691.5" y1="225.6" x2="672.9" y2="232.0" stroke="#f4f4f4" stroke-width="2.5" opacity="0.58" stroke-linecap="round"/><line x1="893.7" y1="313.9" x2="903.6" y2="344.5" stroke="#f4f4f4" stroke-width="1.7" opacity="0.41" stroke-linecap="round"/><line x1="957.2" y1="323.8" x2="971.3" y2="343.4" stroke="#f4f4f4" stroke-width="2.8" opacity="0.58" stroke-linecap="round"/><line x1="761.3" y1="335.1" x2="750.2" y2="355.9" stroke="#f4f4f4" stroke-width="3.7" opacity="0.40" stroke-linecap="round"/><line x1="931.4" y1="335.0" x2="944.8" y2="361.2" stroke="#f4f4f4" stroke-width="1.9" opacity="0.45" stroke-linecap="round"/><line x1="764.8" y1="298.1" x2="750.7" y2="319.4" stroke="#f4f4f4" stroke-width="2.6" opacity="0.31" stroke-linecap="round"/><line x1="758.3" y1="311.1" x2="742.7" y2="335.5" stroke="#f4f4f4" stroke-width="2.8" opacity="0.47" stroke-linecap="round"/><line x1="727.1" y1="291.8" x2="697.6" y2="321.0" stroke="#f4f4f4" stroke-width="3.8" opacity="0.41" stroke-linecap="round"/><line x1="976.0" y1="286.4" x2="993.2" y2="301.7" stroke="#f4f4f4" stroke-width="3.7" opacity="0.36" stroke-linecap="round"/><line x1="982.4" y1="262.6" x2="1015.4" y2="284.8" stroke="#f4f4f4" stroke-width="1.8" opacity="0.57" stroke-linecap="round"/><line x1="861.4" y1="333.2" x2="864.2" y2="365.8" stroke="#f4f4f4" stroke-width="3.7" opacity="0.29" stroke-linecap="round"/><line x1="799.7" y1="313.4" x2="787.1" y2="350.5" stroke="#f4f4f4" stroke-width="3.4" opacity="0.34" stroke-linecap="round"/><line x1="901.4" y1="344.9" x2="912.9" y2="382.3" stroke="#f4f4f4" stroke-width="3.4" opacity="0.26" stroke-linecap="round"/><line x1="946.4" y1="312.0" x2="956.2" y2="325.9" stroke="#f4f4f4" stroke-width="2.8" opacity="0.25" stroke-linecap="round"/><line x1="848.1" y1="331.1" x2="848.1" y2="365.9" stroke="#f4f4f4" stroke-width="2.4" opacity="0.57" stroke-linecap="round"/><line x1="924.7" y1="295.9" x2="937.5" y2="316.6" stroke="#f4f4f4" stroke-width="1.9" opacity="0.58" stroke-linecap="round"/><line x1="699.1" y1="293.3" x2="685.3" y2="304.5" stroke="#f4f4f4" stroke-width="3.7" opacity="0.57" stroke-linecap="round"/><line x1="926.5" y1="330.5" x2="936.1" y2="349.9" stroke="#f4f4f4" stroke-width="2.0" opacity="0.49" stroke-linecap="round"/><line x1="897.8" y1="317.8" x2="907.4" y2="345.9" stroke="#f4f4f4" stroke-width="3.1" opacity="0.26" stroke-linecap="round"/><line x1="1002.4" y1="261.6" x2="1014.6" y2="268.7" stroke="#f4f4f4" stroke-width="1.8" opacity="0.58" stroke-linecap="round"/><line x1="674.2" y1="246.5" x2="635.3" y2="263.1" stroke="#f4f4f4" stroke-width="3.2" opacity="0.57" stroke-linecap="round"/><line x1="1001.6" y1="250.5" x2="1022.3" y2="261.2" stroke="#f4f4f4" stroke-width="2.3" opacity="0.34" stroke-linecap="round"/><line x1="909.7" y1="333.1" x2="923.6" y2="369.6" stroke="#f4f4f4" stroke-width="3.8" opacity="0.39" stroke-linecap="round"/><line x1="793.8" y1="313.6" x2="786.9" y2="331.9" stroke="#f4f4f4" stroke-width="3.8" opacity="0.44" stroke-linecap="round"/><line x1="985.4" y1="277.4" x2="1014.4" y2="299.6" stroke="#f4f4f4" stroke-width="3.2" opacity="0.29" stroke-linecap="round"/><line x1="876.9" y1="322.8" x2="880.0" y2="339.2" stroke="#f4f4f4" stroke-width="2.1" opacity="0.54" stroke-linecap="round"/><line x1="807.1" y1="340.4" x2="801.9" y2="361.8" stroke="#f4f4f4" stroke-width="3.6" opacity="0.25" stroke-linecap="round"/><line x1="893.8" y1="314.2" x2="899.4" y2="331.5" stroke="#f4f4f4" stroke-width="3.3" opacity="0.31" stroke-linecap="round"/><line x1="695.9" y1="267.6" x2="662.1" y2="288.9" stroke="#f4f4f4" stroke-width="1.6" opacity="0.27" stroke-linecap="round"/><line x1="1018.5" y1="273.1" x2="1041.4" y2="286.7" stroke="#f4f4f4" stroke-width="1.6" opacity="0.35" stroke-linecap="round"/><line x1="889.8" y1="317.9" x2="895.2" y2="336.8" stroke="#f4f4f4" stroke-width="2.1" opacity="0.34" stroke-linecap="round"/><line x1="859.3" y1="316.2" x2="861.5" y2="344.1" stroke="#f4f4f4" stroke-width="3.5" opacity="0.31" stroke-linecap="round"/><line x1="773.3" y1="326.3" x2="764.6" y2="344.3" stroke="#f4f4f4" stroke-width="2.5" opacity="0.30" stroke-linecap="round"/><line x1="777.3" y1="340.2" x2="764.1" y2="371.5" stroke="#f4f4f4" stroke-width="2.0" opacity="0.40" stroke-linecap="round"/><line x1="829.1" y1="322.3" x2="824.2" y2="361.0" stroke="#f4f4f4" stroke-width="3.7" opacity="0.41" stroke-linecap="round"/><line x1="947.4" y1="318.5" x2="962.3" y2="340.5" stroke="#f4f4f4" stroke-width="3.3" opacity="0.56" stroke-linecap="round"/><line x1="667.5" y1="240.9" x2="650.5" y2="247.4" stroke="#f4f4f4" stroke-width="2.9" opacity="0.50" stroke-linecap="round"/><line x1="973.1" y1="314.9" x2="985.7" y2="329.3" stroke="#f4f4f4" stroke-width="3.6" opacity="0.26" stroke-linecap="round"/><line x1="969.5" y1="264.9" x2="980.4" y2="273.2" stroke="#f4f4f4" stroke-width="1.7" opacity="0.28" stroke-linecap="round"/><line x1="734.2" y1="318.6" x2="712.4" y2="346.7" stroke="#f4f4f4" stroke-width="3.5" opacity="0.52" stroke-linecap="round"/><line x1="956.5" y1="295.5" x2="964.4" y2="304.6" stroke="#f4f4f4" stroke-width="1.9" opacity="0.32" stroke-linecap="round"/><line x1="847.3" y1="348.9" x2="847.2" y2="369.6" stroke="#f4f4f4" stroke-width="3.2" opacity="0.48" stroke-linecap="round"/><line x1="903.9" y1="305.1" x2="910.4" y2="320.6" stroke="#f4f4f4" stroke-width="2.0" opacity="0.43" stroke-linecap="round"/><line x1="909.8" y1="329.1" x2="920.4" y2="356.0" stroke="#f4f4f4" stroke-width="1.8" opacity="0.55" stroke-linecap="round"/><line x1="865.5" y1="319.7" x2="866.8" y2="330.6" stroke="#f4f4f4" stroke-width="2.7" opacity="0.29" stroke-linecap="round"/><line x1="743.4" y1="288.9" x2="732.7" y2="300.8" stroke="#f4f4f4" stroke-width="2.6" opacity="0.28" stroke-linecap="round"/><line x1="677.6" y1="263.6" x2="665.4" y2="270.1" stroke="#f4f4f4" stroke-width="2.1" opacity="0.54" stroke-linecap="round"/><line x1="729.1" y1="296.0" x2="706.8" y2="319.3" stroke="#f4f4f4" stroke-width="2.6" opacity="0.46" stroke-linecap="round"/><line x1="779.5" y1="331.0" x2="763.8" y2="367.7" stroke="#f4f4f4" stroke-width="2.8" opacity="0.30" stroke-linecap="round"/><line x1="715.2" y1="308.8" x2="695.9" y2="328.7" stroke="#f4f4f4" stroke-width="3.8" opacity="0.51" stroke-linecap="round"/><line x1="727.5" y1="308.1" x2="707.7" y2="330.4" stroke="#f4f4f4" stroke-width="1.8" opacity="0.30" stroke-linecap="round"/><line x1="696.1" y1="272.0" x2="682.2" y2="281.1" stroke="#f4f4f4" stroke-width="2.1" opacity="0.56" stroke-linecap="round"/><line x1="977.8" y1="290.1" x2="1003.9" y2="313.9" stroke="#f4f4f4" stroke-width="2.2" opacity="0.26" stroke-linecap="round"/><line x1="881.1" y1="336.3" x2="888.3" y2="372.1" stroke="#f4f4f4" stroke-width="3.0" opacity="0.28" stroke-linecap="round"/><line x1="951.9" y1="304.5" x2="963.3" y2="319.0" stroke="#f4f4f4" stroke-width="1.8" opacity="0.30" stroke-linecap="round"/><line x1="730.7" y1="287.3" x2="703.7" y2="314.0" stroke="#f4f4f4" stroke-width="3.9" opacity="0.37" stroke-linecap="round"/><line x1="769.1" y1="303.6" x2="759.3" y2="319.8" stroke="#f4f4f4" stroke-width="2.1" opacity="0.43" stroke-linecap="round"/><line x1="992.4" y1="289.9" x2="1018.3" y2="311.1" stroke="#f4f4f4" stroke-width="1.8" opacity="0.35" stroke-linecap="round"/><line x1="939.4" y1="331.0" x2="958.5" y2="364.1" stroke="#f4f4f4" stroke-width="2.0" opacity="0.47" stroke-linecap="round"/><line x1="734.9" y1="299.3" x2="721.9" y2="313.9" stroke="#f4f4f4" stroke-width="3.6" opacity="0.25" stroke-linecap="round"/><line x1="675.6" y1="252.5" x2="646.6" y2="266.0" stroke="#f4f4f4" stroke-width="2.2" opacity="0.28" stroke-linecap="round"/><line x1="878.2" y1="330.4" x2="883.3" y2="357.2" stroke="#f4f4f4" stroke-width="2.0" opacity="0.38" stroke-linecap="round"/><line x1="951.6" y1="280.4" x2="970.2" y2="300.0" stroke="#f4f4f4" stroke-width="2.7" opacity="0.46" stroke-linecap="round"/><line x1="860.0" y1="338.3" x2="862.8" y2="376.5" stroke="#f4f4f4" stroke-width="2.5" opacity="0.45" stroke-linecap="round"/><line x1="823.9" y1="330.1" x2="822.4" y2="340.1" stroke="#f4f4f4" stroke-width="1.7" opacity="0.45" stroke-linecap="round"/><line x1="738.9" y1="124.4" x2="724.3" y2="118.1" stroke="#f4f4f4" stroke-width="1.7" opacity="0.49" stroke-linecap="round"/><line x1="749.3" y1="117.6" x2="738.8" y2="111.8" stroke="#f4f4f4" stroke-width="2.0" opacity="0.35" stroke-linecap="round"/><line x1="725.3" y1="124.6" x2="705.8" y2="117.1" stroke="#f4f4f4" stroke-width="3.1" opacity="0.36" stroke-linecap="round"/><line x1="723.1" y1="165.4" x2="696.6" y2="163.9" stroke="#f4f4f4" stroke-width="3.3" opacity="0.50" stroke-linecap="round"/><line x1="729.5" y1="210.1" x2="720.0" y2="213.2" stroke="#f4f4f4" stroke-width="1.9" opacity="0.40" stroke-linecap="round"/><line x1="745.6" y1="119.8" x2="729.5" y2="111.7" stroke="#f4f4f4" stroke-width="2.1" opacity="0.29" stroke-linecap="round"/><line x1="757.2" y1="60.6" x2="739.6" y2="38.9" stroke="#f4f4f4" stroke-width="1.8" opacity="0.54" stroke-linecap="round"/><line x1="777.7" y1="75.1" x2="768.8" y2="63.0" stroke="#f4f4f4" stroke-width="2.1" opacity="0.32" stroke-linecap="round"/><line x1="727.0" y1="125.9" x2="707.1" y2="118.3" stroke="#f4f4f4" stroke-width="3.3" opacity="0.46" stroke-linecap="round"/><line x1="747.8" y1="96.2" x2="727.2" y2="80.6" stroke="#f4f4f4" stroke-width="1.8" opacity="0.41" stroke-linecap="round"/><line x1="733.1" y1="192.7" x2="716.9" y2="195.6" stroke="#f4f4f4" stroke-width="1.7" opacity="0.43" stroke-linecap="round"/><line x1="730.0" y1="201.7" x2="710.6" y2="206.5" stroke="#f4f4f4" stroke-width="2.4" opacity="0.56" stroke-linecap="round"/><line x1="727.1" y1="132.7" x2="699.5" y2="123.7" stroke="#f4f4f4" stroke-width="2.4" opacity="0.55" stroke-linecap="round"/><line x1="742.8" y1="161.2" x2="729.9" y2="159.9" stroke="#f4f4f4" stroke-width="2.0" opacity="0.48" stroke-linecap="round"/><line x1="728.0" y1="211.7" x2="713.7" y2="216.5" stroke="#f4f4f4" stroke-width="2.8" opacity="0.57" stroke-linecap="round"/><line x1="734.8" y1="105.9" x2="716.0" y2="94.9" stroke="#f4f4f4" stroke-width="2.6" opacity="0.42" stroke-linecap="round"/><line x1="750.8" y1="92.9" x2="736.9" y2="81.6" stroke="#f4f4f4" stroke-width="3.1" opacity="0.51" stroke-linecap="round"/><line x1="748.0" y1="238.9" x2="734.9" y2="247.7" stroke="#f4f4f4" stroke-width="2.0" opacity="0.29" stroke-linecap="round"/><line x1="731.1" y1="146.8" x2="709.7" y2="142.2" stroke="#f4f4f4" stroke-width="2.3" opacity="0.53" stroke-linecap="round"/><line x1="736.4" y1="85.2" x2="729.2" y2="79.5" stroke="#f4f4f4" stroke-width="3.1" opacity="0.59" stroke-linecap="round"/><line x1="730.7" y1="138.0" x2="703.5" y2="130.1" stroke="#f4f4f4" stroke-width="2.1" opacity="0.54" stroke-linecap="round"/><line x1="719.2" y1="146.5" x2="695.2" y2="141.8" stroke="#f4f4f4" stroke-width="2.4" opacity="0.30" stroke-linecap="round"/><line x1="724.6" y1="186.3" x2="709.4" y2="188.1" stroke="#f4f4f4" stroke-width="1.9" opacity="0.34" stroke-linecap="round"/><line x1="727.7" y1="144.6" x2="704.1" y2="139.2" stroke="#f4f4f4" stroke-width="1.6" opacity="0.46" stroke-linecap="round"/><line x1="736.4" y1="227.7" x2="724.6" y2="233.6" stroke="#f4f4f4" stroke-width="2.9" opacity="0.42" stroke-linecap="round"/><line x1="735.3" y1="221.3" x2="718.4" y2="228.7" stroke="#f4f4f4" stroke-width="2.9" opacity="0.56" stroke-linecap="round"/><line x1="770.9" y1="40.4" x2="765.6" y2="31.2" stroke="#f4f4f4" stroke-width="2.6" opacity="0.39" stroke-linecap="round"/><line x1="760.8" y1="86.5" x2="739.0" y2="65.1" stroke="#f4f4f4" stroke-width="1.8" opacity="0.30" stroke-linecap="round"/><line x1="733.7" y1="191.6" x2="708.2" y2="195.9" stroke="#f4f4f4" stroke-width="2.3" opacity="0.45" stroke-linecap="round"/><line x1="768.7" y1="84.2" x2="754.7" y2="68.8" stroke="#f4f4f4" stroke-width="2.8" opacity="0.50" stroke-linecap="round"/><line x1="743.2" y1="232.0" x2="723.2" y2="243.5" stroke="#f4f4f4" stroke-width="1.8" opacity="0.25" stroke-linecap="round"/><line x1="761.5" y1="92.4" x2="746.2" y2="78.3" stroke="#f4f4f4" stroke-width="2.2" opacity="0.40" stroke-linecap="round"/><line x1="752.2" y1="69.3" x2="734.4" y2="50.3" stroke="#f4f4f4" stroke-width="3.2" opacity="0.55" stroke-linecap="round"/><line x1="760.6" y1="97.9" x2="743.7" y2="83.5" stroke="#f4f4f4" stroke-width="1.8" opacity="0.57" stroke-linecap="round"/><line x1="741.8" y1="83.5" x2="725.4" y2="69.8" stroke="#f4f4f4" stroke-width="2.3" opacity="0.36" stroke-linecap="round"/><line x1="762.8" y1="51.7" x2="755.5" y2="41.4" stroke="#f4f4f4" stroke-width="1.7" opacity="0.48" stroke-linecap="round"/><line x1="727.6" y1="186.3" x2="706.2" y2="188.8" stroke="#f4f4f4" stroke-width="2.4" opacity="0.29" stroke-linecap="round"/><line x1="719.2" y1="136.6" x2="701.5" y2="131.7" stroke="#f4f4f4" stroke-width="1.8" opacity="0.30" stroke-linecap="round"/><line x1="770.7" y1="53.2" x2="761.4" y2="38.8" stroke="#f4f4f4" stroke-width="2.5" opacity="0.56" stroke-linecap="round"/><line x1="737.3" y1="156.8" x2="711.2" y2="153.2" stroke="#f4f4f4" stroke-width="2.7" opacity="0.42" stroke-linecap="round"/><line x1="727.5" y1="208.3" x2="708.1" y2="214.2" stroke="#f4f4f4" stroke-width="2.0" opacity="0.60" stroke-linecap="round"/><line x1="726.5" y1="143.0" x2="705.7" y2="138.1" stroke="#f4f4f4" stroke-width="1.8" opacity="0.26" stroke-linecap="round"/><line x1="765.7" y1="75.1" x2="753.0" y2="60.1" stroke="#f4f4f4" stroke-width="1.9" opacity="0.46" stroke-linecap="round"/><line x1="750.7" y1="95.1" x2="735.8" y2="83.4" stroke="#f4f4f4" stroke-width="1.9" opacity="0.46" stroke-linecap="round"/><line x1="719.6" y1="182.1" x2="692.6" y2="184.3" stroke="#f4f4f4" stroke-width="1.5" opacity="0.46" stroke-linecap="round"/><line x1="735.4" y1="174.7" x2="722.1" y2="175.1" stroke="#f4f4f4" stroke-width="2.1" opacity="0.28" stroke-linecap="round"/><line x1="747.3" y1="213.7" x2="732.9" y2="219.7" stroke="#f4f4f4" stroke-width="3.4" opacity="0.37" stroke-linecap="round"/><line x1="765.7" y1="83.6" x2="748.1" y2="64.6" stroke="#f4f4f4" stroke-width="3.4" opacity="0.32" stroke-linecap="round"/><line x1="728.6" y1="120.8" x2="721.0" y2="117.5" stroke="#f4f4f4" stroke-width="1.6" opacity="0.40" stroke-linecap="round"/><line x1="733.0" y1="191.4" x2="713.4" y2="194.7" stroke="#f4f4f4" stroke-width="3.1" opacity="0.34" stroke-linecap="round"/><line x1="763.2" y1="82.0" x2="746.2" y2="64.0" stroke="#f4f4f4" stroke-width="3.3" opacity="0.29" stroke-linecap="round"/><line x1="781.5" y1="74.5" x2="775.2" y2="65.3" stroke="#f4f4f4" stroke-width="2.7" opacity="0.46" stroke-linecap="round"/><line x1="764.4" y1="60.7" x2="756.3" y2="50.0" stroke="#f4f4f4" stroke-width="2.6" opacity="0.59" stroke-linecap="round"/><line x1="750.9" y1="74.8" x2="740.5" y2="64.4" stroke="#f4f4f4" stroke-width="2.4" opacity="0.45" stroke-linecap="round"/><line x1="737.5" y1="218.6" x2="720.7" y2="225.7" stroke="#f4f4f4" stroke-width="2.3" opacity="0.52" stroke-linecap="round"/><line x1="729.4" y1="191.6" x2="700.9" y2="196.3" stroke="#f4f4f4" stroke-width="2.7" opacity="0.43" stroke-linecap="round"/><line x1="741.4" y1="91.6" x2="724.3" y2="78.7" stroke="#f4f4f4" stroke-width="2.2" opacity="0.45" stroke-linecap="round"/><line x1="770.3" y1="66.1" x2="755.4" y2="45.8" stroke="#f4f4f4" stroke-width="2.0" opacity="0.43" stroke-linecap="round"/><line x1="734.2" y1="182.6" x2="721.8" y2="183.8" stroke="#f4f4f4" stroke-width="1.8" opacity="0.28" stroke-linecap="round"/><line x1="727.6" y1="241.7" x2="707.0" y2="253.6" stroke="#f4f4f4" stroke-width="1.9" opacity="0.41" stroke-linecap="round"/></g>
<g filter="url(#b1)"><line x1="831.3" y1="313.6" x2="829.7" y2="327.1" stroke="#f0f0f0" stroke-width="1.3" opacity="0.80" stroke-linecap="round"/><line x1="796.8" y1="326.0" x2="789.3" y2="348.5" stroke="#f0f0f0" stroke-width="1.6" opacity="0.88" stroke-linecap="round"/><line x1="850.6" y1="328.7" x2="850.9" y2="350.9" stroke="#f0f0f0" stroke-width="1.3" opacity="0.86" stroke-linecap="round"/><line x1="824.5" y1="326.4" x2="821.0" y2="349.8" stroke="#f0f0f0" stroke-width="1.2" opacity="0.76" stroke-linecap="round"/><line x1="932.1" y1="323.0" x2="946.2" y2="348.3" stroke="#f0f0f0" stroke-width="1.6" opacity="0.81" stroke-linecap="round"/><line x1="846.0" y1="327.4" x2="845.8" y2="342.8" stroke="#f0f0f0" stroke-width="1.0" opacity="0.58" stroke-linecap="round"/><line x1="963.6" y1="336.3" x2="974.7" y2="352.1" stroke="#f0f0f0" stroke-width="2.1" opacity="0.74" stroke-linecap="round"/><line x1="960.7" y1="324.3" x2="969.3" y2="335.8" stroke="#f0f0f0" stroke-width="2.1" opacity="0.56" stroke-linecap="round"/><line x1="919.0" y1="340.5" x2="930.5" y2="367.8" stroke="#f0f0f0" stroke-width="2.1" opacity="0.76" stroke-linecap="round"/><line x1="748.4" y1="301.6" x2="736.5" y2="317.0" stroke="#f0f0f0" stroke-width="2.0" opacity="0.53" stroke-linecap="round"/><line x1="836.1" y1="305.8" x2="834.7" y2="322.0" stroke="#f0f0f0" stroke-width="1.0" opacity="0.63" stroke-linecap="round"/><line x1="858.3" y1="313.7" x2="860.2" y2="339.3" stroke="#f0f0f0" stroke-width="1.1" opacity="0.58" stroke-linecap="round"/><line x1="798.2" y1="327.5" x2="790.5" y2="351.5" stroke="#f0f0f0" stroke-width="1.4" opacity="0.78" stroke-linecap="round"/><line x1="948.4" y1="308.9" x2="964.6" y2="330.9" stroke="#f0f0f0" stroke-width="1.7" opacity="0.80" stroke-linecap="round"/><line x1="877.4" y1="327.8" x2="879.6" y2="339.5" stroke="#f0f0f0" stroke-width="1.2" opacity="0.57" stroke-linecap="round"/><line x1="780.1" y1="309.9" x2="773.9" y2="322.6" stroke="#f0f0f0" stroke-width="1.7" opacity="0.81" stroke-linecap="round"/><line x1="920.3" y1="357.5" x2="924.8" y2="369.0" stroke="#f0f0f0" stroke-width="2.0" opacity="0.57" stroke-linecap="round"/><line x1="756.4" y1="319.6" x2="744.9" y2="338.0" stroke="#f0f0f0" stroke-width="1.1" opacity="0.59" stroke-linecap="round"/><line x1="830.2" y1="355.9" x2="828.5" y2="373.8" stroke="#f0f0f0" stroke-width="1.5" opacity="0.65" stroke-linecap="round"/><line x1="760.9" y1="359.8" x2="749.0" y2="385.6" stroke="#f0f0f0" stroke-width="1.9" opacity="0.66" stroke-linecap="round"/><line x1="840.3" y1="321.2" x2="839.2" y2="344.2" stroke="#f0f0f0" stroke-width="1.8" opacity="0.62" stroke-linecap="round"/><line x1="937.6" y1="349.0" x2="944.1" y2="361.8" stroke="#f0f0f0" stroke-width="2.0" opacity="0.77" stroke-linecap="round"/><line x1="796.4" y1="320.2" x2="788.2" y2="343.8" stroke="#f0f0f0" stroke-width="1.1" opacity="0.68" stroke-linecap="round"/><line x1="957.8" y1="317.4" x2="969.9" y2="333.4" stroke="#f0f0f0" stroke-width="2.1" opacity="0.85" stroke-linecap="round"/><line x1="918.1" y1="336.3" x2="929.4" y2="362.6" stroke="#f0f0f0" stroke-width="1.3" opacity="0.85" stroke-linecap="round"/><line x1="832.5" y1="344.8" x2="830.5" y2="366.9" stroke="#f0f0f0" stroke-width="1.3" opacity="0.77" stroke-linecap="round"/><line x1="876.6" y1="367.1" x2="879.9" y2="390.2" stroke="#f0f0f0" stroke-width="1.5" opacity="0.65" stroke-linecap="round"/><line x1="940.6" y1="323.5" x2="952.7" y2="343.4" stroke="#f0f0f0" stroke-width="1.8" opacity="0.89" stroke-linecap="round"/><line x1="783.7" y1="345.2" x2="779.0" y2="357.8" stroke="#f0f0f0" stroke-width="1.8" opacity="0.76" stroke-linecap="round"/><line x1="907.9" y1="358.9" x2="912.4" y2="372.8" stroke="#f0f0f0" stroke-width="2.0" opacity="0.64" stroke-linecap="round"/><line x1="830.4" y1="307.6" x2="827.7" y2="328.1" stroke="#f0f0f0" stroke-width="1.0" opacity="0.62" stroke-linecap="round"/><line x1="891.9" y1="350.8" x2="895.1" y2="363.8" stroke="#f0f0f0" stroke-width="1.9" opacity="0.68" stroke-linecap="round"/><line x1="786.4" y1="350.9" x2="778.3" y2="374.3" stroke="#f0f0f0" stroke-width="1.6" opacity="0.71" stroke-linecap="round"/><line x1="880.1" y1="343.0" x2="884.7" y2="367.8" stroke="#f0f0f0" stroke-width="1.9" opacity="0.58" stroke-linecap="round"/><line x1="744.7" y1="307.2" x2="734.8" y2="320.0" stroke="#f0f0f0" stroke-width="1.7" opacity="0.88" stroke-linecap="round"/><line x1="834.2" y1="325.1" x2="832.3" y2="346.2" stroke="#f0f0f0" stroke-width="2.1" opacity="0.74" stroke-linecap="round"/><line x1="806.7" y1="351.5" x2="800.0" y2="380.5" stroke="#f0f0f0" stroke-width="2.0" opacity="0.66" stroke-linecap="round"/><line x1="778.9" y1="331.3" x2="773.9" y2="342.9" stroke="#f0f0f0" stroke-width="1.2" opacity="0.68" stroke-linecap="round"/><line x1="932.2" y1="347.7" x2="940.1" y2="364.3" stroke="#f0f0f0" stroke-width="2.1" opacity="0.57" stroke-linecap="round"/><line x1="796.5" y1="318.6" x2="789.4" y2="338.8" stroke="#f0f0f0" stroke-width="2.1" opacity="0.65" stroke-linecap="round"/><line x1="926.8" y1="363.7" x2="934.3" y2="381.8" stroke="#f0f0f0" stroke-width="2.1" opacity="0.86" stroke-linecap="round"/><line x1="847.7" y1="311.5" x2="847.6" y2="323.0" stroke="#f0f0f0" stroke-width="1.3" opacity="0.68" stroke-linecap="round"/><line x1="743.5" y1="322.4" x2="732.1" y2="338.8" stroke="#f0f0f0" stroke-width="1.4" opacity="0.79" stroke-linecap="round"/><line x1="868.7" y1="336.2" x2="871.6" y2="358.7" stroke="#f0f0f0" stroke-width="1.7" opacity="0.67" stroke-linecap="round"/><line x1="777.5" y1="340.0" x2="773.3" y2="350.1" stroke="#f0f0f0" stroke-width="1.0" opacity="0.64" stroke-linecap="round"/><line x1="792.0" y1="351.4" x2="788.0" y2="363.9" stroke="#f0f0f0" stroke-width="1.5" opacity="0.78" stroke-linecap="round"/><line x1="834.4" y1="354.8" x2="833.5" y2="367.1" stroke="#f0f0f0" stroke-width="1.2" opacity="0.61" stroke-linecap="round"/><line x1="822.5" y1="338.1" x2="820.4" y2="351.9" stroke="#f0f0f0" stroke-width="1.7" opacity="0.78" stroke-linecap="round"/><line x1="887.5" y1="355.4" x2="889.9" y2="366.8" stroke="#f0f0f0" stroke-width="1.8" opacity="0.79" stroke-linecap="round"/><line x1="926.5" y1="310.2" x2="932.3" y2="320.4" stroke="#f0f0f0" stroke-width="1.9" opacity="0.76" stroke-linecap="round"/><line x1="777.6" y1="359.2" x2="769.1" y2="382.0" stroke="#f0f0f0" stroke-width="1.7" opacity="0.80" stroke-linecap="round"/><line x1="878.1" y1="323.1" x2="880.3" y2="334.0" stroke="#f0f0f0" stroke-width="1.4" opacity="0.75" stroke-linecap="round"/><line x1="782.5" y1="312.2" x2="777.3" y2="323.3" stroke="#f0f0f0" stroke-width="1.6" opacity="0.89" stroke-linecap="round"/><line x1="905.1" y1="300.9" x2="912.2" y2="316.9" stroke="#f0f0f0" stroke-width="1.8" opacity="0.54" stroke-linecap="round"/><line x1="919.6" y1="316.0" x2="928.0" y2="332.9" stroke="#f0f0f0" stroke-width="2.0" opacity="0.85" stroke-linecap="round"/><line x1="758.1" y1="355.6" x2="746.0" y2="380.3" stroke="#f0f0f0" stroke-width="2.0" opacity="0.81" stroke-linecap="round"/><line x1="824.3" y1="321.3" x2="822.6" y2="332.1" stroke="#f0f0f0" stroke-width="1.5" opacity="0.62" stroke-linecap="round"/><line x1="775.9" y1="364.2" x2="766.2" y2="390.0" stroke="#f0f0f0" stroke-width="2.0" opacity="0.62" stroke-linecap="round"/><line x1="767.9" y1="329.1" x2="762.7" y2="339.3" stroke="#f0f0f0" stroke-width="1.4" opacity="0.74" stroke-linecap="round"/><line x1="811.7" y1="322.7" x2="807.8" y2="338.8" stroke="#f0f0f0" stroke-width="2.0" opacity="0.51" stroke-linecap="round"/><line x1="923.9" y1="341.5" x2="932.5" y2="360.6" stroke="#f0f0f0" stroke-width="1.8" opacity="0.51" stroke-linecap="round"/><line x1="935.1" y1="319.6" x2="944.2" y2="335.1" stroke="#f0f0f0" stroke-width="1.6" opacity="0.86" stroke-linecap="round"/><line x1="791.5" y1="335.6" x2="781.8" y2="363.8" stroke="#f0f0f0" stroke-width="1.3" opacity="0.76" stroke-linecap="round"/><line x1="777.0" y1="338.6" x2="769.7" y2="355.8" stroke="#f0f0f0" stroke-width="1.7" opacity="0.51" stroke-linecap="round"/><line x1="785.7" y1="361.2" x2="781.4" y2="374.2" stroke="#f0f0f0" stroke-width="1.4" opacity="0.90" stroke-linecap="round"/><line x1="797.5" y1="339.4" x2="792.2" y2="357.2" stroke="#f0f0f0" stroke-width="1.0" opacity="0.76" stroke-linecap="round"/><line x1="853.7" y1="363.7" x2="854.5" y2="393.2" stroke="#f0f0f0" stroke-width="1.1" opacity="0.74" stroke-linecap="round"/><line x1="817.1" y1="309.0" x2="810.9" y2="336.6" stroke="#f0f0f0" stroke-width="1.1" opacity="0.70" stroke-linecap="round"/><line x1="792.6" y1="339.0" x2="788.1" y2="352.4" stroke="#f0f0f0" stroke-width="2.0" opacity="0.67" stroke-linecap="round"/><line x1="785.6" y1="354.4" x2="781.5" y2="366.5" stroke="#f0f0f0" stroke-width="1.9" opacity="0.60" stroke-linecap="round"/><line x1="930.0" y1="317.4" x2="941.4" y2="337.5" stroke="#f0f0f0" stroke-width="1.8" opacity="0.70" stroke-linecap="round"/><line x1="936.8" y1="336.9" x2="943.7" y2="349.9" stroke="#f0f0f0" stroke-width="1.6" opacity="0.77" stroke-linecap="round"/><line x1="835.1" y1="335.7" x2="834.2" y2="347.1" stroke="#f0f0f0" stroke-width="1.3" opacity="0.81" stroke-linecap="round"/><line x1="815.5" y1="312.9" x2="809.7" y2="338.1" stroke="#f0f0f0" stroke-width="1.0" opacity="0.52" stroke-linecap="round"/><line x1="754.0" y1="312.9" x2="747.9" y2="322.0" stroke="#f0f0f0" stroke-width="1.4" opacity="0.61" stroke-linecap="round"/><line x1="948.6" y1="317.3" x2="960.9" y2="335.0" stroke="#f0f0f0" stroke-width="1.4" opacity="0.79" stroke-linecap="round"/><line x1="765.8" y1="323.4" x2="759.7" y2="334.7" stroke="#f0f0f0" stroke-width="1.4" opacity="0.60" stroke-linecap="round"/><line x1="842.2" y1="364.2" x2="841.9" y2="374.7" stroke="#f0f0f0" stroke-width="1.3" opacity="0.74" stroke-linecap="round"/><line x1="928.7" y1="325.8" x2="936.6" y2="341.0" stroke="#f0f0f0" stroke-width="1.4" opacity="0.65" stroke-linecap="round"/><line x1="861.7" y1="353.0" x2="862.4" y2="363.4" stroke="#f0f0f0" stroke-width="1.2" opacity="0.59" stroke-linecap="round"/><line x1="880.3" y1="351.7" x2="882.3" y2="362.9" stroke="#f0f0f0" stroke-width="1.0" opacity="0.55" stroke-linecap="round"/><line x1="838.5" y1="347.0" x2="836.9" y2="376.5" stroke="#f0f0f0" stroke-width="1.4" opacity="0.67" stroke-linecap="round"/><line x1="938.0" y1="352.2" x2="950.5" y2="377.3" stroke="#f0f0f0" stroke-width="1.3" opacity="0.78" stroke-linecap="round"/><line x1="922.7" y1="318.6" x2="929.4" y2="331.8" stroke="#f0f0f0" stroke-width="2.1" opacity="0.59" stroke-linecap="round"/><line x1="813.7" y1="307.0" x2="806.9" y2="333.6" stroke="#f0f0f0" stroke-width="1.7" opacity="0.60" stroke-linecap="round"/><line x1="840.0" y1="330.2" x2="839.4" y2="340.6" stroke="#f0f0f0" stroke-width="1.9" opacity="0.53" stroke-linecap="round"/><line x1="826.7" y1="350.2" x2="824.8" y2="365.7" stroke="#f0f0f0" stroke-width="1.9" opacity="0.86" stroke-linecap="round"/><line x1="899.1" y1="329.0" x2="907.9" y2="356.1" stroke="#f0f0f0" stroke-width="1.4" opacity="0.90" stroke-linecap="round"/><line x1="876.7" y1="336.4" x2="881.4" y2="363.4" stroke="#f0f0f0" stroke-width="1.1" opacity="0.61" stroke-linecap="round"/><line x1="915.2" y1="304.6" x2="928.1" y2="330.1" stroke="#f0f0f0" stroke-width="1.5" opacity="0.70" stroke-linecap="round"/></g>
<path d="M852,40 L846,48 L838,55 L824,73 L808,78 L791,76 L774,83 L760,102 L748,114 L741,127 L740,145 L744,170 L748,195 L755,220 L767,242 L784,264 L808,280 L835,294 L865,299 L895,290 L913,281 L934,290 L959,312 L975,326 L975,40 Z" fill="none" stroke="#e8e8e8" stroke-width="34" opacity="0.55" filter="url(#soft4)"/>
<g filter="url(#roughB)">
<path d="M852,40 L846,48 L838,55 L824,73 L808,78 L791,76 L774,83 L760,102 L748,114 L741,127 L740,145 L744,170 L748,195 L755,220 L767,242 L784,264 L808,280 L835,294 L865,299 L895,290 L913,281 L934,290 L959,312 L975,326 L975,40 Z" fill="#0c3c98" stroke="#7ad4f0" stroke-width="17" stroke-linejoin="round"/>
<path d="M852,40 L846,48 L838,55 L824,73 L808,78 L791,76 L774,83 L760,102 L748,114 L741,127 L740,145 L744,170 L748,195 L755,220 L767,242 L784,264 L808,280 L835,294 L865,299 L895,290 L913,281 L934,290 L959,312 L975,326 L975,40 Z" fill="#0c3c98" stroke="#1450b0" stroke-width="9" stroke-linejoin="round"/>
</g>
<g filter="url(#rough)"><line x1="871.9" y1="292.8" x2="877.5" y2="321.1" stroke="#0c3c98" stroke-width="3.1" stroke-linecap="round"/><line x1="777.4" y1="85.7" x2="772.2" y2="79.3" stroke="#1a5cc0" stroke-width="2.6" stroke-linecap="round"/><line x1="764.3" y1="102.9" x2="758.7" y2="98.3" stroke="#a0dcf0" stroke-width="3.1" stroke-linecap="round"/><line x1="787.2" y1="81.8" x2="782.1" y2="74.2" stroke="#a0dcf0" stroke-width="3.5" stroke-linecap="round"/><line x1="756.3" y1="210.0" x2="745.4" y2="214.6" stroke="#1a5cc0" stroke-width="3.0" stroke-linecap="round"/><line x1="756.2" y1="209.7" x2="746.1" y2="213.8" stroke="#0c3c98" stroke-width="3.2" stroke-linecap="round"/><line x1="804.1" y1="80.9" x2="800.5" y2="73.6" stroke="#1a5cc0" stroke-width="3.4" stroke-linecap="round"/><line x1="774.9" y1="245.7" x2="759.6" y2="261.2" stroke="#1a5cc0" stroke-width="3.2" stroke-linecap="round"/><line x1="780.2" y1="252.6" x2="767.5" y2="267.7" stroke="#0c3c98" stroke-width="3.0" stroke-linecap="round"/><line x1="811.9" y1="277.6" x2="798.8" y2="315.9" stroke="#0c3c98" stroke-width="2.3" stroke-linecap="round"/><line x1="785.8" y1="260.1" x2="775.4" y2="275.0" stroke="#a0dcf0" stroke-width="2.3" stroke-linecap="round"/><line x1="811.7" y1="81.0" x2="807.9" y2="71.5" stroke="#0c3c98" stroke-width="2.8" stroke-linecap="round"/><line x1="802.1" y1="80.7" x2="797.3" y2="71.2" stroke="#0c3c98" stroke-width="2.2" stroke-linecap="round"/><line x1="760.4" y1="221.5" x2="751.7" y2="226.4" stroke="#0c3c98" stroke-width="1.9" stroke-linecap="round"/><line x1="749.5" y1="119.6" x2="739.6" y2="114.3" stroke="#2a9a50" stroke-width="2.6" stroke-linecap="round"/><line x1="744.4" y1="149.0" x2="735.7" y2="147.1" stroke="#a0dcf0" stroke-width="3.1" stroke-linecap="round"/><line x1="812.3" y1="277.8" x2="798.6" y2="318.4" stroke="#0c3c98" stroke-width="3.3" stroke-linecap="round"/><line x1="818.3" y1="281.0" x2="811.6" y2="305.8" stroke="#48b8e8" stroke-width="2.4" stroke-linecap="round"/><line x1="746.1" y1="158.8" x2="737.3" y2="157.6" stroke="#0c3c98" stroke-width="2.1" stroke-linecap="round"/><line x1="865.1" y1="294.9" x2="869.1" y2="323.6" stroke="#a0dcf0" stroke-width="2.6" stroke-linecap="round"/><line x1="778.4" y1="85.3" x2="772.9" y2="78.6" stroke="#a0dcf0" stroke-width="3.0" stroke-linecap="round"/><line x1="778.1" y1="85.5" x2="771.0" y2="76.7" stroke="#0c3c98" stroke-width="2.6" stroke-linecap="round"/><line x1="765.2" y1="101.7" x2="759.4" y2="96.8" stroke="#0c3c98" stroke-width="2.8" stroke-linecap="round"/><line x1="890.5" y1="287.2" x2="898.7" y2="309.4" stroke="#0c3c98" stroke-width="3.1" stroke-linecap="round"/><line x1="773.0" y1="243.2" x2="759.6" y2="255.9" stroke="#48b8e8" stroke-width="3.1" stroke-linecap="round"/><line x1="802.6" y1="271.6" x2="787.2" y2="305.4" stroke="#0c3c98" stroke-width="3.0" stroke-linecap="round"/><line x1="822.7" y1="77.6" x2="819.8" y2="66.7" stroke="#0c3c98" stroke-width="2.4" stroke-linecap="round"/><line x1="773.0" y1="243.2" x2="764.1" y2="251.6" stroke="#1a5cc0" stroke-width="2.2" stroke-linecap="round"/><line x1="879.4" y1="290.5" x2="884.8" y2="311.0" stroke="#0c3c98" stroke-width="2.9" stroke-linecap="round"/><line x1="763.4" y1="227.1" x2="752.3" y2="234.4" stroke="#1a5cc0" stroke-width="2.6" stroke-linecap="round"/><line x1="821.9" y1="282.9" x2="812.2" y2="324.4" stroke="#0c3c98" stroke-width="2.8" stroke-linecap="round"/><line x1="747.0" y1="164.0" x2="736.6" y2="163.1" stroke="#a0dcf0" stroke-width="3.0" stroke-linecap="round"/><line x1="744.0" y1="144.4" x2="734.0" y2="141.8" stroke="#0c3c98" stroke-width="1.9" stroke-linecap="round"/><line x1="866.2" y1="294.5" x2="869.6" y2="317.0" stroke="#0c3c98" stroke-width="2.6" stroke-linecap="round"/><line x1="841.3" y1="291.0" x2="839.5" y2="323.5" stroke="#a0dcf0" stroke-width="3.5" stroke-linecap="round"/><line x1="815.0" y1="80.0" x2="811.3" y2="69.6" stroke="#2a9a50" stroke-width="3.5" stroke-linecap="round"/><line x1="746.6" y1="161.6" x2="733.4" y2="160.2" stroke="#0c3c98" stroke-width="3.0" stroke-linecap="round"/><line x1="780.3" y1="84.6" x2="773.8" y2="76.2" stroke="#0c3c98" stroke-width="2.5" stroke-linecap="round"/><line x1="759.4" y1="108.2" x2="752.4" y2="103.3" stroke="#0c3c98" stroke-width="3.5" stroke-linecap="round"/><line x1="748.3" y1="171.6" x2="734.6" y2="171.6" stroke="#0c3c98" stroke-width="2.6" stroke-linecap="round"/><line x1="744.0" y1="143.6" x2="734.7" y2="141.0" stroke="#0c3c98" stroke-width="2.4" stroke-linecap="round"/><line x1="899.1" y1="283.5" x2="909.6" y2="306.4" stroke="#48b8e8" stroke-width="3.4" stroke-linecap="round"/><line x1="890.4" y1="287.2" x2="903.2" y2="322.3" stroke="#0c3c98" stroke-width="2.5" stroke-linecap="round"/><line x1="791.9" y1="264.4" x2="780.5" y2="283.2" stroke="#0c3c98" stroke-width="2.9" stroke-linecap="round"/><line x1="745.6" y1="155.7" x2="737.2" y2="154.4" stroke="#0c3c98" stroke-width="3.0" stroke-linecap="round"/><line x1="749.6" y1="179.5" x2="734.3" y2="180.6" stroke="#0c3c98" stroke-width="3.3" stroke-linecap="round"/><line x1="888.7" y1="287.7" x2="900.3" y2="320.8" stroke="#48b8e8" stroke-width="2.5" stroke-linecap="round"/><line x1="790.9" y1="80.3" x2="786.7" y2="73.6" stroke="#0c3c98" stroke-width="2.1" stroke-linecap="round"/><line x1="750.8" y1="187.2" x2="735.6" y2="189.6" stroke="#a0dcf0" stroke-width="2.8" stroke-linecap="round"/><line x1="788.0" y1="81.5" x2="781.8" y2="72.2" stroke="#0c3c98" stroke-width="2.2" stroke-linecap="round"/><line x1="789.1" y1="262.6" x2="782.8" y2="272.3" stroke="#48b8e8" stroke-width="1.9" stroke-linecap="round"/><line x1="761.7" y1="224.0" x2="753.1" y2="229.2" stroke="#0c3c98" stroke-width="3.3" stroke-linecap="round"/><line x1="773.9" y1="244.5" x2="757.8" y2="260.2" stroke="#0c3c98" stroke-width="2.3" stroke-linecap="round"/><line x1="784.1" y1="83.1" x2="778.2" y2="74.8" stroke="#0c3c98" stroke-width="2.0" stroke-linecap="round"/><line x1="747.6" y1="167.9" x2="735.0" y2="167.4" stroke="#0c3c98" stroke-width="3.2" stroke-linecap="round"/><line x1="762.1" y1="105.5" x2="755.7" y2="100.6" stroke="#2a9a50" stroke-width="1.8" stroke-linecap="round"/><line x1="908.1" y1="279.0" x2="919.7" y2="299.6" stroke="#a0dcf0" stroke-width="3.5" stroke-linecap="round"/><line x1="756.8" y1="211.7" x2="749.1" y2="215.0" stroke="#48b8e8" stroke-width="2.7" stroke-linecap="round"/><line x1="799.2" y1="80.3" x2="795.6" y2="73.6" stroke="#0c3c98" stroke-width="2.7" stroke-linecap="round"/><line x1="761.9" y1="105.7" x2="754.3" y2="99.8" stroke="#2a9a50" stroke-width="3.0" stroke-linecap="round"/><line x1="757.5" y1="214.3" x2="748.2" y2="218.6" stroke="#0c3c98" stroke-width="2.8" stroke-linecap="round"/><line x1="745.3" y1="154.3" x2="737.0" y2="152.9" stroke="#48b8e8" stroke-width="2.4" stroke-linecap="round"/><line x1="786.5" y1="260.9" x2="776.4" y2="275.5" stroke="#1a5cc0" stroke-width="3.4" stroke-linecap="round"/><line x1="904.9" y1="280.6" x2="925.2" y2="319.4" stroke="#48b8e8" stroke-width="3.0" stroke-linecap="round"/><line x1="753.6" y1="200.3" x2="740.0" y2="204.4" stroke="#2a9a50" stroke-width="2.0" stroke-linecap="round"/><line x1="781.0" y1="253.8" x2="770.7" y2="266.4" stroke="#2a9a50" stroke-width="3.5" stroke-linecap="round"/><line x1="744.6" y1="130.1" x2="737.0" y2="127.0" stroke="#0c3c98" stroke-width="2.7" stroke-linecap="round"/><line x1="878.5" y1="290.8" x2="883.8" y2="311.6" stroke="#0c3c98" stroke-width="2.7" stroke-linecap="round"/><line x1="780.1" y1="252.6" x2="772.4" y2="261.8" stroke="#48b8e8" stroke-width="3.3" stroke-linecap="round"/><line x1="927.5" y1="284.9" x2="939.7" y2="302.3" stroke="#1a5cc0" stroke-width="2.0" stroke-linecap="round"/><line x1="760.6" y1="221.9" x2="753.4" y2="226.0" stroke="#0c3c98" stroke-width="2.4" stroke-linecap="round"/><line x1="900.7" y1="282.7" x2="914.0" y2="310.5" stroke="#0c3c98" stroke-width="2.0" stroke-linecap="round"/><line x1="765.9" y1="100.7" x2="760.3" y2="95.8" stroke="#0c3c98" stroke-width="2.6" stroke-linecap="round"/><line x1="893.9" y1="286.1" x2="909.9" y2="325.9" stroke="#0c3c98" stroke-width="3.6" stroke-linecap="round"/><line x1="769.1" y1="237.7" x2="752.7" y2="251.4" stroke="#1a5cc0" stroke-width="3.3" stroke-linecap="round"/><line x1="779.4" y1="85.0" x2="774.4" y2="78.7" stroke="#2a9a50" stroke-width="3.4" stroke-linecap="round"/><line x1="783.3" y1="256.8" x2="774.7" y2="268.0" stroke="#1a5cc0" stroke-width="3.6" stroke-linecap="round"/><line x1="744.5" y1="149.7" x2="729.2" y2="146.4" stroke="#0c3c98" stroke-width="2.9" stroke-linecap="round"/><line x1="824.9" y1="76.9" x2="822.1" y2="65.4" stroke="#0c3c98" stroke-width="2.9" stroke-linecap="round"/><line x1="798.5" y1="80.2" x2="794.0" y2="71.8" stroke="#0c3c98" stroke-width="3.0" stroke-linecap="round"/><line x1="822.4" y1="77.7" x2="819.7" y2="67.8" stroke="#2a9a50" stroke-width="3.3" stroke-linecap="round"/><line x1="752.4" y1="195.9" x2="740.3" y2="199.0" stroke="#0c3c98" stroke-width="3.2" stroke-linecap="round"/><line x1="866.1" y1="294.6" x2="870.4" y2="323.9" stroke="#0c3c98" stroke-width="3.4" stroke-linecap="round"/><line x1="783.1" y1="256.6" x2="770.7" y2="272.7" stroke="#0c3c98" stroke-width="1.8" stroke-linecap="round"/><line x1="802.9" y1="271.8" x2="783.6" y2="314.5" stroke="#0c3c98" stroke-width="2.4" stroke-linecap="round"/><line x1="777.0" y1="85.9" x2="769.8" y2="77.2" stroke="#a0dcf0" stroke-width="2.7" stroke-linecap="round"/><line x1="794.3" y1="266.1" x2="784.8" y2="282.8" stroke="#48b8e8" stroke-width="3.2" stroke-linecap="round"/><line x1="754.0" y1="201.5" x2="741.3" y2="205.5" stroke="#2a9a50" stroke-width="3.0" stroke-linecap="round"/><line x1="776.5" y1="86.1" x2="772.1" y2="80.7" stroke="#1a5cc0" stroke-width="1.9" stroke-linecap="round"/><line x1="755.3" y1="206.4" x2="746.4" y2="209.7" stroke="#a0dcf0" stroke-width="3.0" stroke-linecap="round"/><line x1="869.7" y1="293.4" x2="874.4" y2="319.6" stroke="#a0dcf0" stroke-width="2.9" stroke-linecap="round"/><line x1="806.9" y1="274.6" x2="798.4" y2="295.7" stroke="#1a5cc0" stroke-width="2.5" stroke-linecap="round"/><line x1="850.5" y1="292.6" x2="851.4" y2="335.6" stroke="#48b8e8" stroke-width="2.7" stroke-linecap="round"/><line x1="824.6" y1="77.0" x2="822.6" y2="68.6" stroke="#0c3c98" stroke-width="3.3" stroke-linecap="round"/><line x1="744.6" y1="130.0" x2="734.1" y2="125.7" stroke="#0c3c98" stroke-width="2.8" stroke-linecap="round"/><line x1="931.2" y1="286.6" x2="954.1" y2="318.1" stroke="#48b8e8" stroke-width="2.9" stroke-linecap="round"/><line x1="806.1" y1="81.2" x2="801.3" y2="70.9" stroke="#1a5cc0" stroke-width="2.3" stroke-linecap="round"/><line x1="764.6" y1="102.5" x2="756.9" y2="96.0" stroke="#0c3c98" stroke-width="1.9" stroke-linecap="round"/><line x1="750.5" y1="185.4" x2="740.4" y2="186.8" stroke="#0c3c98" stroke-width="3.5" stroke-linecap="round"/><line x1="799.2" y1="80.3" x2="795.9" y2="74.1" stroke="#1a5cc0" stroke-width="2.6" stroke-linecap="round"/><line x1="752.3" y1="115.2" x2="744.5" y2="110.6" stroke="#1a5cc0" stroke-width="3.0" stroke-linecap="round"/><line x1="894.3" y1="285.9" x2="907.2" y2="317.7" stroke="#48b8e8" stroke-width="2.5" stroke-linecap="round"/><line x1="797.3" y1="268.1" x2="782.6" y2="295.8" stroke="#0c3c98" stroke-width="3.5" stroke-linecap="round"/><line x1="804.1" y1="272.7" x2="785.8" y2="314.8" stroke="#0c3c98" stroke-width="3.5" stroke-linecap="round"/><line x1="834.5" y1="289.5" x2="831.1" y2="319.3" stroke="#1a5cc0" stroke-width="2.1" stroke-linecap="round"/><line x1="883.7" y1="289.2" x2="890.7" y2="312.2" stroke="#0c3c98" stroke-width="3.2" stroke-linecap="round"/><line x1="778.0" y1="85.5" x2="771.0" y2="76.7" stroke="#0c3c98" stroke-width="2.8" stroke-linecap="round"/><line x1="744.9" y1="128.1" x2="733.0" y2="123.0" stroke="#a0dcf0" stroke-width="2.1" stroke-linecap="round"/><line x1="818.5" y1="78.9" x2="815.0" y2="68.1" stroke="#0c3c98" stroke-width="2.1" stroke-linecap="round"/><line x1="746.4" y1="160.4" x2="734.9" y2="159.1" stroke="#0c3c98" stroke-width="2.9" stroke-linecap="round"/><line x1="806.8" y1="274.5" x2="795.0" y2="303.7" stroke="#0c3c98" stroke-width="3.0" stroke-linecap="round"/><line x1="747.9" y1="169.4" x2="733.9" y2="169.0" stroke="#a0dcf0" stroke-width="2.6" stroke-linecap="round"/><line x1="785.4" y1="259.6" x2="774.9" y2="274.3" stroke="#0c3c98" stroke-width="2.0" stroke-linecap="round"/><line x1="930.8" y1="286.4" x2="951.8" y2="315.4" stroke="#48b8e8" stroke-width="1.9" stroke-linecap="round"/><line x1="754.7" y1="204.3" x2="743.0" y2="208.3" stroke="#1a5cc0" stroke-width="2.4" stroke-linecap="round"/><line x1="781.1" y1="253.9" x2="772.5" y2="264.3" stroke="#48b8e8" stroke-width="2.2" stroke-linecap="round"/><line x1="771.0" y1="240.7" x2="753.8" y2="256.1" stroke="#1a5cc0" stroke-width="3.1" stroke-linecap="round"/><line x1="755.8" y1="208.0" x2="745.3" y2="212.1" stroke="#2a9a50" stroke-width="3.4" stroke-linecap="round"/><line x1="781.5" y1="84.1" x2="774.4" y2="74.8" stroke="#0c3c98" stroke-width="2.4" stroke-linecap="round"/><line x1="750.1" y1="182.9" x2="739.6" y2="184.1" stroke="#2a9a50" stroke-width="3.4" stroke-linecap="round"/><line x1="857.4" y1="293.8" x2="859.3" y2="319.0" stroke="#0c3c98" stroke-width="1.9" stroke-linecap="round"/><line x1="833.7" y1="289.1" x2="828.7" y2="330.8" stroke="#0c3c98" stroke-width="2.5" stroke-linecap="round"/><line x1="885.7" y1="288.6" x2="894.3" y2="315.3" stroke="#0c3c98" stroke-width="2.6" stroke-linecap="round"/><line x1="893.4" y1="286.3" x2="903.1" y2="310.8" stroke="#48b8e8" stroke-width="2.4" stroke-linecap="round"/><line x1="875.1" y1="291.8" x2="879.7" y2="311.8" stroke="#1a5cc0" stroke-width="2.7" stroke-linecap="round"/><line x1="750.1" y1="182.6" x2="737.4" y2="184.0" stroke="#1a5cc0" stroke-width="3.4" stroke-linecap="round"/><line x1="925.8" y1="284.2" x2="945.1" y2="312.1" stroke="#1a5cc0" stroke-width="2.8" stroke-linecap="round"/><line x1="747.3" y1="165.9" x2="738.4" y2="165.3" stroke="#0c3c98" stroke-width="3.3" stroke-linecap="round"/><line x1="745.7" y1="156.5" x2="736.3" y2="155.0" stroke="#0c3c98" stroke-width="2.7" stroke-linecap="round"/><line x1="766.1" y1="100.5" x2="760.2" y2="95.4" stroke="#2a9a50" stroke-width="3.2" stroke-linecap="round"/><line x1="746.3" y1="125.5" x2="737.6" y2="121.5" stroke="#0c3c98" stroke-width="2.3" stroke-linecap="round"/><line x1="815.8" y1="279.6" x2="803.1" y2="322.1" stroke="#2a9a50" stroke-width="3.2" stroke-linecap="round"/><line x1="848.0" y1="292.2" x2="847.9" y2="328.6" stroke="#0c3c98" stroke-width="2.6" stroke-linecap="round"/><line x1="802.6" y1="80.7" x2="797.4" y2="70.3" stroke="#1a5cc0" stroke-width="2.0" stroke-linecap="round"/><line x1="852.3" y1="292.9" x2="853.5" y2="325.8" stroke="#2a9a50" stroke-width="2.8" stroke-linecap="round"/><line x1="905.1" y1="280.5" x2="915.9" y2="301.0" stroke="#2a9a50" stroke-width="2.9" stroke-linecap="round"/><line x1="772.5" y1="242.6" x2="761.6" y2="252.8" stroke="#0c3c98" stroke-width="3.5" stroke-linecap="round"/><line x1="780.3" y1="84.6" x2="773.0" y2="75.2" stroke="#a0dcf0" stroke-width="3.1" stroke-linecap="round"/><line x1="767.6" y1="234.9" x2="759.5" y2="241.3" stroke="#0c3c98" stroke-width="3.2" stroke-linecap="round"/><line x1="744.9" y1="151.8" x2="733.2" y2="149.5" stroke="#48b8e8" stroke-width="1.9" stroke-linecap="round"/><line x1="783.5" y1="257.0" x2="775.1" y2="267.9" stroke="#0c3c98" stroke-width="2.5" stroke-linecap="round"/><line x1="821.1" y1="78.1" x2="819.0" y2="70.9" stroke="#a0dcf0" stroke-width="3.0" stroke-linecap="round"/><line x1="809.3" y1="81.6" x2="806.2" y2="74.5" stroke="#0c3c98" stroke-width="2.0" stroke-linecap="round"/><line x1="749.0" y1="175.9" x2="739.3" y2="176.2" stroke="#0c3c98" stroke-width="3.0" stroke-linecap="round"/><line x1="744.1" y1="140.4" x2="732.3" y2="136.8" stroke="#0c3c98" stroke-width="2.3" stroke-linecap="round"/><line x1="841.5" y1="291.1" x2="839.4" y2="328.8" stroke="#2a9a50" stroke-width="2.2" stroke-linecap="round"/><line x1="797.2" y1="80.0" x2="793.6" y2="73.5" stroke="#1a5cc0" stroke-width="2.1" stroke-linecap="round"/><line x1="774.0" y1="89.6" x2="767.6" y2="82.5" stroke="#1a5cc0" stroke-width="2.0" stroke-linecap="round"/><line x1="802.4" y1="271.6" x2="783.1" y2="313.8" stroke="#48b8e8" stroke-width="3.1" stroke-linecap="round"/><line x1="819.8" y1="281.7" x2="812.5" y2="309.9" stroke="#0c3c98" stroke-width="2.8" stroke-linecap="round"/><line x1="911.6" y1="277.9" x2="926.7" y2="302.9" stroke="#1a5cc0" stroke-width="3.0" stroke-linecap="round"/><line x1="811.2" y1="277.2" x2="798.6" y2="313.3" stroke="#1a5cc0" stroke-width="2.8" stroke-linecap="round"/><line x1="758.3" y1="109.3" x2="749.0" y2="102.8" stroke="#48b8e8" stroke-width="2.8" stroke-linecap="round"/><line x1="744.3" y1="137.8" x2="730.9" y2="133.4" stroke="#0c3c98" stroke-width="3.4" stroke-linecap="round"/><line x1="832.7" y1="288.6" x2="828.3" y2="321.9" stroke="#2a9a50" stroke-width="3.2" stroke-linecap="round"/><line x1="762.9" y1="226.2" x2="751.6" y2="233.4" stroke="#1a5cc0" stroke-width="2.7" stroke-linecap="round"/><line x1="819.6" y1="78.6" x2="816.5" y2="68.4" stroke="#2a9a50" stroke-width="3.5" stroke-linecap="round"/><line x1="774.1" y1="244.6" x2="761.4" y2="257.1" stroke="#1a5cc0" stroke-width="2.9" stroke-linecap="round"/><line x1="751.5" y1="191.5" x2="740.4" y2="193.8" stroke="#0c3c98" stroke-width="3.0" stroke-linecap="round"/><line x1="819.7" y1="281.7" x2="809.3" y2="321.7" stroke="#0c3c98" stroke-width="2.8" stroke-linecap="round"/><line x1="814.7" y1="80.1" x2="812.2" y2="73.3" stroke="#0c3c98" stroke-width="3.3" stroke-linecap="round"/><line x1="774.0" y1="244.6" x2="758.6" y2="259.7" stroke="#0c3c98" stroke-width="3.3" stroke-linecap="round"/><line x1="900.3" y1="282.9" x2="913.7" y2="311.4" stroke="#2a9a50" stroke-width="2.6" stroke-linecap="round"/><line x1="768.8" y1="237.1" x2="756.6" y2="247.2" stroke="#0c3c98" stroke-width="2.0" stroke-linecap="round"/><line x1="750.3" y1="183.8" x2="741.8" y2="184.8" stroke="#2a9a50" stroke-width="3.3" stroke-linecap="round"/><line x1="760.9" y1="106.7" x2="753.1" y2="100.9" stroke="#48b8e8" stroke-width="3.4" stroke-linecap="round"/><line x1="774.4" y1="89.0" x2="767.2" y2="80.9" stroke="#0c3c98" stroke-width="3.5" stroke-linecap="round"/><line x1="753.4" y1="199.5" x2="742.7" y2="202.6" stroke="#48b8e8" stroke-width="3.0" stroke-linecap="round"/><line x1="751.4" y1="190.9" x2="740.3" y2="193.0" stroke="#48b8e8" stroke-width="3.3" stroke-linecap="round"/><line x1="777.3" y1="248.9" x2="770.0" y2="256.9" stroke="#2a9a50" stroke-width="2.3" stroke-linecap="round"/><line x1="787.5" y1="81.7" x2="782.4" y2="74.2" stroke="#0c3c98" stroke-width="3.5" stroke-linecap="round"/><line x1="747.3" y1="166.1" x2="733.7" y2="165.3" stroke="#a0dcf0" stroke-width="2.8" stroke-linecap="round"/><line x1="870.6" y1="293.2" x2="877.1" y2="327.8" stroke="#1a5cc0" stroke-width="2.2" stroke-linecap="round"/><line x1="782.5" y1="83.7" x2="778.3" y2="78.0" stroke="#a0dcf0" stroke-width="3.0" stroke-linecap="round"/><line x1="750.3" y1="118.3" x2="743.8" y2="114.7" stroke="#1a5cc0" stroke-width="3.1" stroke-linecap="round"/><line x1="870.7" y1="293.1" x2="877.1" y2="327.4" stroke="#2a9a50" stroke-width="2.8" stroke-linecap="round"/><line x1="748.2" y1="122.0" x2="737.8" y2="116.8" stroke="#48b8e8" stroke-width="2.7" stroke-linecap="round"/><line x1="750.2" y1="183.3" x2="736.3" y2="185.0" stroke="#1a5cc0" stroke-width="3.2" stroke-linecap="round"/><line x1="786.8" y1="261.0" x2="779.9" y2="270.9" stroke="#0c3c98" stroke-width="3.3" stroke-linecap="round"/><line x1="903.3" y1="281.4" x2="913.2" y2="301.1" stroke="#2a9a50" stroke-width="2.8" stroke-linecap="round"/><line x1="896.8" y1="284.7" x2="911.7" y2="319.3" stroke="#a0dcf0" stroke-width="3.1" stroke-linecap="round"/><line x1="751.8" y1="193.5" x2="739.8" y2="196.2" stroke="#48b8e8" stroke-width="2.4" stroke-linecap="round"/><line x1="762.8" y1="226.0" x2="752.5" y2="232.6" stroke="#2a9a50" stroke-width="2.2" stroke-linecap="round"/><line x1="766.6" y1="233.0" x2="755.9" y2="241.0" stroke="#0c3c98" stroke-width="3.4" stroke-linecap="round"/><line x1="744.4" y1="148.9" x2="734.3" y2="146.7" stroke="#0c3c98" stroke-width="3.0" stroke-linecap="round"/><line x1="818.3" y1="281.0" x2="812.0" y2="304.0" stroke="#a0dcf0" stroke-width="2.1" stroke-linecap="round"/><line x1="809.2" y1="81.6" x2="805.0" y2="71.7" stroke="#0c3c98" stroke-width="1.9" stroke-linecap="round"/><line x1="801.5" y1="270.9" x2="786.5" y2="302.9" stroke="#48b8e8" stroke-width="2.5" stroke-linecap="round"/><line x1="811.8" y1="81.0" x2="807.9" y2="71.2" stroke="#0c3c98" stroke-width="3.0" stroke-linecap="round"/><line x1="745.1" y1="153.3" x2="732.1" y2="150.9" stroke="#0c3c98" stroke-width="2.0" stroke-linecap="round"/></g>
<g filter="url(#rs)">
<path d="M852,40 L846,48 L838,55 L824,73 L808,78 L791,76 L774,83 L760,102 L748,114 L741,127 L740,145 L744,170 L748,195 L755,220 L767,242 L784,264 L808,280 L835,294 L865,299 L895,290 L913,281 L934,290 L959,312 L975,326 L975,40 Z" fill="#56dc34" stroke="#22a83a" stroke-width="6" stroke-linejoin="round"/>
</g>
<clipPath id="gclip"><path d="M852,40 L846,48 L838,55 L824,73 L808,78 L791,76 L774,83 L760,102 L748,114 L741,127 L740,145 L744,170 L748,195 L755,220 L767,242 L784,264 L808,280 L835,294 L865,299 L895,290 L913,281 L934,290 L959,312 L975,326 L975,40 Z"/></clipPath>
<g clip-path="url(#gclip)"><rect x="730" y="45" width="240" height="290" filter="url(#mot1)" opacity="0.6"/><rect x="730" y="45" width="240" height="290" filter="url(#mot2)" opacity="0.7"/></g>
<g filter="url(#roughB)">
<path d="M966,226 L950,232 L935,248 L928,262 L940,280 L966,300 Z" fill="#1450b0" stroke="#7ad4f0" stroke-width="3"/>
<path d="M966,232 L952,238 L940,252 L936,262 L946,276 L966,292 Z" fill="#b8b8b8"/>
</g>
<path d="M966,236 L954,242 L944,254 L942,262 L950,272 L966,286 Z" fill="#d8d8d8" filter="url(#soft2)"/>
<g filter="url(#rough)">
<path d="M905,262 L930,276 L950,292 L966,300 L966,326 L948,316 L924,298 L900,282 Z" fill="#1450b0" stroke="#7ad4f0" stroke-width="2"/>
<path d="M908,266 L932,280 L952,295 L966,304 L966,320 L948,310 L926,294 L904,278 Z" fill="#40cc38"/>
<path d="M915,274 L935,286 L950,297 L940,294 L920,282 Z" fill="#d8e838"/>
</g>
<g filter="url(#rough)">
<path d="M846,80 L872,100 L900,126 L925,150 L945,190 L945,232 L925,225 L910,190 L892,150 L868,118 L848,100 Z" fill="#dcec3a" opacity="0.9"/>
<path d="M880,96 L905,104 L915,125 L900,140 L880,128 Z" fill="#c8e838" opacity="0.8"/>
<path d="M852,66 L880,68 L905,76 L916,92 L907,106 L880,102 L860,90 Z" fill="#f0b030"/>
<path d="M855,68 L880,70 L903,78 L911,92 L902,101 L880,97 L862,86 Z" fill="#d82818"/>
<path d="M872,76 L892,80 L905,88 L900,97 L882,93 Z" fill="#4a0c0c"/>
<ellipse cx="903" cy="59" rx="11" ry="6" fill="#e04a1c"/>
<ellipse cx="958" cy="72" rx="12" ry="9" fill="#e03a18"/>
<ellipse cx="892" cy="125" rx="10" ry="5" fill="#e05a20"/>
<ellipse cx="920" cy="171" rx="8" ry="5" fill="#e04a18"/>
<ellipse cx="959" cy="177" rx="5" ry="3" fill="#e02a18"/>
</g><g filter="url(#roughB)">
<path d="M922,104 L934,100 L948,104 L956,118 L966,122 L966,166 L950,170 L936,162 L930,146 L922,130 Z" fill="#0c3c98"/>
<path d="M927,108 L936,104 L946,108 L948,122 L958,130 L966,132 L966,158 L948,160 L938,150 L934,134 L927,122 Z" fill="#48b8e8"/>
<path d="M930,106 L942,106 L945,120 L936,124 Z" fill="#e8e8e8"/>
<path d="M938,136 L952,132 L966,136 L966,156 L950,156 L940,148 Z" fill="#dcdcdc"/>
<path d="M866,52 L880,52 L882,62 L868,62 Z" fill="#c8e4f0"/>
<ellipse cx="846" cy="53" rx="3" ry="3" fill="#e0e0e0"/>
</g>
<g filter="url(#rs)">
<path d="M787,88 L810,83 L830,81 L852,90 L864,104 L880,128 L892,155 L906,179 L912,199 L918,221 L904,239 L881,251 L853,258 L826,251 L799,232 L785,198 L773,169 L768,138 L766,114 Z" fill="#e8ee3c" stroke="#e8ee3c" stroke-width="20" stroke-linejoin="round"/>
<path d="M787,88 L810,83 L830,81 L852,90 L864,104 L880,128 L892,155 L906,179 L912,199 L918,221 L904,239 L881,251 L853,258 L826,251 L799,232 L785,198 L773,169 L768,138 L766,114 Z" fill="#f29a24" stroke="#f29a24" stroke-width="10" stroke-linejoin="round"/>
<path d="M787,88 L810,83 L830,81 L852,90 L864,104 L880,128 L892,155 L906,179 L912,199 L918,221 L904,239 L881,251 L853,258 L826,251 L799,232 L785,198 L773,169 L768,138 L766,114 Z" fill="#d41412"/>
<path d="M829.1,65.1 L852.3,78.5 L873.1,106.6 L887.7,145.6 L897.5,192.0 L895.0,228.6 L875.5,250.5 L851.1,245.6 L826.7,223.7 L802.3,209.0 L780.3,182.2 L765.7,137.1 L777.9,91.9 L802.3,84.6 L824.3,70.0 Z" fill="#b80e0e"/>
<path d="M830.7,75.4 L851.6,87.5 L870.3,112.8 L883.5,148.0 L892.3,189.8 L890.1,222.8 L872.5,242.6 L850.5,238.2 L828.5,218.4 L806.5,205.2 L786.7,181.0 L773.5,140.3 L784.5,99.6 L806.5,93.0 L826.3,79.8 Z" fill="#8a0a0a"/>
<ellipse cx="880" cy="228" rx="26" ry="12" transform="rotate(20 880 228)" fill="#7a0a0a"/>
<path d="M832,84 L851,95 L868,118 L880,150 L888,188 L886,218 L870,236 L850,232 L830,214 L810,202 L792,180 L780,143 L790,106 L810,100 L828,88 Z" fill="#701010"/>
<path d="M833.0,90.9 L850.5,101.0 L866.2,122.2 L877.2,151.6 L884.6,186.6 L882.7,214.2 L868.0,230.7 L849.6,227.0 L831.2,210.5 L812.8,199.4 L796.2,179.2 L785.2,145.2 L794.4,111.1 L812.8,105.6 L829.4,94.6 Z" fill="#221616"/>
<path d="M830,258 L872,272 L884,288 L858,284 L826,266 Z" fill="#f07a20"/>
<path d="M898,255 L912,262 L925,278 L915,280 L900,266 Z" fill="#f07a20"/>
<ellipse cx="867" cy="236" rx="4" ry="2.5" fill="#808080"/>
<path d="M800,108 L850,104 L853,138 L845,169 L840,191 L820,199 L808,191 L782,141 L792,124 L796,110 Z" fill="#a8a8a8"/>
</g>
<clipPath id="kclip"><path d="M832.6,88.3 L850.7,98.8 L866.9,120.6 L878.2,151.0 L885.9,187.1 L884.0,215.6 L868.8,232.7 L849.8,228.9 L830.8,211.8 L811.8,200.4 L794.6,179.5 L783.2,144.3 L792.8,109.2 L811.8,103.5 L828.9,92.1 Z"/></clipPath>
<ellipse cx="818" cy="135" rx="22" ry="30" fill="#d8d8d8" opacity="0.85" filter="url(#soft2)"/>
<ellipse cx="800" cy="150" rx="10" ry="15" fill="#c8c8c8" opacity="0.7" filter="url(#soft2)"/>
<ellipse cx="812" cy="172" rx="9" ry="10" fill="#585858" opacity="0.7" filter="url(#soft2)"/>
<ellipse cx="845" cy="150" rx="6" ry="14" fill="#505050" opacity="0.6" filter="url(#soft2)"/>
<clipPath id="gcclip"><path d="M800,108 L850,104 L853,138 L845,169 L840,191 L820,199 L808,191 L782,141 L792,124 L796,110 Z"/></clipPath>
<g clip-path="url(#kclip)"><rect x="770" y="80" width="110" height="150" filter="url(#mot4)" opacity="0.3"/><rect x="770" y="80" width="110" height="150" filter="url(#mot3)" opacity="0.4"/></g>
<g clip-path="url(#gcclip)"><rect x="770" y="80" width="110" height="150" filter="url(#mot4)" opacity="0.6"/></g>
<g filter="url(#rough)">
<path d="M804,116 L815,111 L832,113 L846,115 L846,132 L832,135 L806,133 Z" fill="#e27ae0"/>
<path d="M822,139 L834,138 L834,158 L831,173 L823,171 Z" fill="#e27ae0"/>
</g><g>
<clipPath id="mgclip"><path d="M804,116 L815,111 L832,113 L846,115 L846,132 L832,135 L806,133 Z M822,139 L834,138 L834,158 L831,173 L823,171 Z"/></clipPath>
<g clip-path="url(#mgclip)"><rect x="800" y="108" width="50" height="70" filter="url(#mot4)" opacity="0.5"/></g>
</g>
<g filter="url(#roughB)">
<path d="M522,48 L642,48 L636,56 L624,62 L617,76 L604,88 L580,92 L560,93 L548,100 L541,108 L534,100 L529,90 L522,88 Z" fill="#1a5cc0" stroke="#90d8f0" stroke-width="4"/>
</g><g filter="url(#rough)">
<path d="M522,48 L634,48 L621,58 L614,74 L601,85 L576,88 L556,89 L545,96 L538,92 L531,84 L522,80 Z" fill="#34c43a"/>
<path d="M534,86 L540,100 L543,104 L547,92 Z" fill="#34c43a"/>
<path d="M540,48 L616,48 L613,72 L599,82 L576,84 L562,78 L550,66 Z" fill="#e8e63a"/>
<path d="M552,48 L615,48 L611,72 L597,80 L578,79 L566,68 Z" fill="#e0481a"/>
<path d="M562,48 L611,48 L606,68 L592,74 L576,70 Z" fill="#c41414"/>
<ellipse cx="585" cy="58" rx="10" ry="6" fill="#8a1010"/>
<ellipse cx="627" cy="55" rx="7" ry="6" fill="#801010"/>
<path d="M522,62 L529,66 L528,80 L522,84 Z" fill="#d8d8d8"/>
<path d="M544,52 L552,54 L556,66 L549,76 L543,66 Z" fill="#9ce040"/>
</g>
<g filter="url(#rough)">
<path d="M690,143 L700,141 L712,143 L724,140 L737,135 L737,142 L724,147 L710,149 L695,148 Z" fill="#1a5cc0"/>
<path d="M700,144 L712,145 L724,143 L735,138 L735,141 L722,145 L708,147 Z" fill="#34c43a"/>
<ellipse cx="532" cy="142" rx="4" ry="4" fill="#1a5cc0"/>
<ellipse cx="601" cy="147" rx="4" ry="2" fill="#1a5cc0"/>
<ellipse cx="620" cy="177" rx="4" ry="2" fill="#1a5cc0"/>
<ellipse cx="668" cy="238" rx="7" ry="3" fill="#1a5cc0"/>
</g>
<line x1="541.0" y1="50.5" x2="541.0" y2="367.5" stroke="#222" stroke-width="0.5" opacity="0.3"/>
<line x1="580.7" y1="50.5" x2="580.7" y2="367.5" stroke="#222" stroke-width="0.5" opacity="0.3"/>
<line x1="620.4" y1="50.5" x2="620.4" y2="367.5" stroke="#222" stroke-width="0.5" opacity="0.3"/>
<line x1="660.1" y1="50.5" x2="660.1" y2="367.5" stroke="#222" stroke-width="0.5" opacity="0.3"/>
<line x1="699.8" y1="50.5" x2="699.8" y2="367.5" stroke="#222" stroke-width="0.5" opacity="0.3"/>
<line x1="739.5" y1="50.5" x2="739.5" y2="367.5" stroke="#222" stroke-width="0.5" opacity="0.3"/>
<line x1="779.2" y1="50.5" x2="779.2" y2="367.5" stroke="#222" stroke-width="0.5" opacity="0.3"/>
<line x1="818.9" y1="50.5" x2="818.9" y2="367.5" stroke="#222" stroke-width="0.5" opacity="0.3"/>
<line x1="858.6" y1="50.5" x2="858.6" y2="367.5" stroke="#222" stroke-width="0.5" opacity="0.3"/>
<line x1="898.3" y1="50.5" x2="898.3" y2="367.5" stroke="#222" stroke-width="0.5" opacity="0.3"/>
<line x1="938.0" y1="50.5" x2="938.0" y2="367.5" stroke="#222" stroke-width="0.5" opacity="0.3"/>
<line x1="522" y1="78.3" x2="966" y2="78.3" stroke="#222" stroke-width="0.5" opacity="0.3"/>
<line x1="522" y1="118.3" x2="966" y2="118.3" stroke="#222" stroke-width="0.5" opacity="0.3"/>
<line x1="522" y1="158.3" x2="966" y2="158.3" stroke="#222" stroke-width="0.5" opacity="0.3"/>
<line x1="522" y1="198.3" x2="966" y2="198.3" stroke="#222" stroke-width="0.5" opacity="0.3"/>
<line x1="522" y1="238.3" x2="966" y2="238.3" stroke="#222" stroke-width="0.5" opacity="0.3"/>
<line x1="522" y1="278.3" x2="966" y2="278.3" stroke="#222" stroke-width="0.5" opacity="0.3"/>
<line x1="522" y1="318.3" x2="966" y2="318.3" stroke="#222" stroke-width="0.5" opacity="0.3"/>
<line x1="522" y1="358.3" x2="966" y2="358.3" stroke="#222" stroke-width="0.5" opacity="0.3"/>
</g>
<rect x="522" y="50.5" width="444" height="317.0" fill="none" stroke="#222" stroke-width="0.7"/>
<text x="522.5" y="48.4" font-size="6.6" font-weight="bold" fill="#111" font-family="Liberation Sans" textLength="301" lengthAdjust="spacingAndGlyphs">Himawari-8 Channel 13 (IR) Brightness Temperature (°C) at 07:00Z Apr 23, 2022</text>
<text x="965.5" y="48.4" font-size="6" font-weight="bold" fill="#9a9aa8" font-family="Liberation Sans" text-anchor="end" textLength="70" lengthAdjust="spacingAndGlyphs">TROPICALTIDBITS.COM</text>
<defs><linearGradient id="cbg" x1="0" y1="50.8" x2="0" y2="367.2" gradientUnits="userSpaceOnUse">
<stop offset="0.0000" stop-color="#000"/>
<stop offset="0.0370" stop-color="#080808"/>
<stop offset="0.2231" stop-color="#f0f0f0"/>
<stop offset="0.3151" stop-color="#ffffff"/>
<stop offset="0.3167" stop-color="#30d8f0"/>
<stop offset="0.4083" stop-color="#0a0a60"/>
<stop offset="0.4115" stop-color="#106010"/>
<stop offset="0.5000" stop-color="#40d040"/>
<stop offset="0.5948" stop-color="#f0f040"/>
<stop offset="0.6454" stop-color="#f08020"/>
<stop offset="0.6675" stop-color="#e01010"/>
<stop offset="0.6865" stop-color="#901010"/>
<stop offset="0.7813" stop-color="#000"/>
<stop offset="0.8698" stop-color="#f0f0f0"/>
<stop offset="0.8729" stop-color="#f090f0"/>
<stop offset="1.0000" stop-color="#600080"/>
</linearGradient></defs>
<path d="M970.8,50.8 L973.7,60.5 L973.7,357.5 L970.8,367.2 L967.9,357.5 L967.9,60.5 Z" fill="url(#cbg)"/>
<line x1="973.7" y1="62.5" x2="975.5" y2="62.5" stroke="#333" stroke-width="0.5"/>
<text x="976.5" y="64.1" font-size="4.6" fill="#333" font-family="Liberation Sans">40</text>
<line x1="973.7" y1="92" x2="975.5" y2="92" stroke="#333" stroke-width="0.5"/>
<text x="976.5" y="93.6" font-size="4.6" fill="#333" font-family="Liberation Sans">20</text>
<line x1="973.7" y1="121.4" x2="975.5" y2="121.4" stroke="#333" stroke-width="0.5"/>
<text x="976.5" y="123.0" font-size="4.6" fill="#333" font-family="Liberation Sans">0</text>
<line x1="973.7" y1="150.8" x2="975.5" y2="150.8" stroke="#333" stroke-width="0.5"/>
<text x="976.5" y="152.4" font-size="4.6" fill="#333" font-family="Liberation Sans">−20</text>
<line x1="973.7" y1="180" x2="975.5" y2="180" stroke="#333" stroke-width="0.5"/>
<text x="976.5" y="181.6" font-size="4.6" fill="#333" font-family="Liberation Sans">−30</text>
<line x1="973.7" y1="209.3" x2="975.5" y2="209.3" stroke="#333" stroke-width="0.5"/>
<text x="976.5" y="210.9" font-size="4.6" fill="#333" font-family="Liberation Sans">−40</text>
<line x1="973.7" y1="238.6" x2="975.5" y2="238.6" stroke="#333" stroke-width="0.5"/>
<text x="976.5" y="240.2" font-size="4.6" fill="#333" font-family="Liberation Sans">−50</text>
<line x1="973.7" y1="268" x2="975.5" y2="268" stroke="#333" stroke-width="0.5"/>
<text x="976.5" y="269.6" font-size="4.6" fill="#333" font-family="Liberation Sans">−60</text>
<line x1="973.7" y1="297.3" x2="975.5" y2="297.3" stroke="#333" stroke-width="0.5"/>
<text x="976.5" y="298.90000000000003" font-size="4.6" fill="#333" font-family="Liberation Sans">−70</text>
<line x1="973.7" y1="326.6" x2="975.5" y2="326.6" stroke="#333" stroke-width="0.5"/>
<text x="976.5" y="328.20000000000005" font-size="4.6" fill="#333" font-family="Liberation Sans">−80</text>
<line x1="973.7" y1="355.9" x2="975.5" y2="355.9" stroke="#333" stroke-width="0.5"/>
<text x="976.5" y="357.5" font-size="4.6" fill="#333" font-family="Liberation Sans">−90</text>
<text x="518" y="79.9" font-size="4.6" text-anchor="end" fill="#333" font-family="Liberation Sans">10°S</text>
<text x="518" y="119.9" font-size="4.6" text-anchor="end" fill="#333" font-family="Liberation Sans">11°S</text>
<text x="518" y="159.9" font-size="4.6" text-anchor="end" fill="#333" font-family="Liberation Sans">12°S</text>
<text x="518" y="199.9" font-size="4.6" text-anchor="end" fill="#333" font-family="Liberation Sans">13°S</text>
<text x="518" y="239.9" font-size="4.6" text-anchor="end" fill="#333" font-family="Liberation Sans">14°S</text>
<text x="518" y="279.9" font-size="4.6" text-anchor="end" fill="#333" font-family="Liberation Sans">15°S</text>
<text x="518" y="319.9" font-size="4.6" text-anchor="end" fill="#333" font-family="Liberation Sans">16°S</text>
<text x="518" y="359.9" font-size="4.6" text-anchor="end" fill="#333" font-family="Liberation Sans">17°S</text>
<text x="541.0" y="375" font-size="4.6" text-anchor="middle" fill="#333" font-family="Liberation Sans">95°E</text>
<text x="580.7" y="375" font-size="4.6" text-anchor="middle" fill="#333" font-family="Liberation Sans">96°E</text>
<text x="620.4" y="375" font-size="4.6" text-anchor="middle" fill="#333" font-family="Liberation Sans">97°E</text>
<text x="660.1" y="375" font-size="4.6" text-anchor="middle" fill="#333" font-family="Liberation Sans">98°E</text>
<text x="699.8" y="375" font-size="4.6" text-anchor="middle" fill="#333" font-family="Liberation Sans">99°E</text>
<text x="739.5" y="375" font-size="4.6" text-anchor="middle" fill="#333" font-family="Liberation Sans">100°E</text>
<text x="779.2" y="375" font-size="4.6" text-anchor="middle" fill="#333" font-family="Liberation Sans">101°E</text>
<text x="818.9" y="375" font-size="4.6" text-anchor="middle" fill="#333" font-family="Liberation Sans">102°E</text>
<text x="858.6" y="375" font-size="4.6" text-anchor="middle" fill="#333" font-family="Liberation Sans">103°E</text>
<text x="898.3" y="375" font-size="4.6" text-anchor="middle" fill="#333" font-family="Liberation Sans">104°E</text>
<text x="938.0" y="375" font-size="4.6" text-anchor="middle" fill="#333" font-family="Liberation Sans">105°E</text>
</svg>
<svg style="left:0;top:0" width="991" height="849" viewBox="0 0 991 849">
<rect x="34.6" y="528.8" width="446.59999999999997" height="304.6" fill="#93cbe1"/>
<path d="M466 528.8 L481.2 528.8 L481.2 532 Z" fill="#5f6e6a"/>
<line x1="34.6" y1="536.4" x2="481.2" y2="536.4" stroke="#5f96aa" stroke-width="0.8" opacity="0.6"/>
<line x1="34.6" y1="593.4" x2="481.2" y2="593.4" stroke="#5f96aa" stroke-width="0.8" opacity="0.6"/>
<line x1="34.6" y1="650.4" x2="481.2" y2="650.4" stroke="#5f96aa" stroke-width="0.8" opacity="0.6"/>
<line x1="34.6" y1="707.4" x2="481.2" y2="707.4" stroke="#5f96aa" stroke-width="0.8" opacity="0.6"/>
<line x1="34.6" y1="764.4" x2="481.2" y2="764.4" stroke="#5f96aa" stroke-width="0.8" opacity="0.6"/>
<line x1="34.6" y1="821.4" x2="481.2" y2="821.4" stroke="#5f96aa" stroke-width="0.8" opacity="0.6"/>
<line x1="70.2" y1="528.8" x2="70.2" y2="833.4" stroke="#5f96aa" stroke-width="0.8" opacity="0.6"/>
<line x1="127.0" y1="528.8" x2="127.0" y2="833.4" stroke="#5f96aa" stroke-width="0.8" opacity="0.6"/>
<line x1="183.8" y1="528.8" x2="183.8" y2="833.4" stroke="#5f96aa" stroke-width="0.8" opacity="0.6"/>
<line x1="240.59999999999997" y1="528.8" x2="240.59999999999997" y2="833.4" stroke="#5f96aa" stroke-width="0.8" opacity="0.6"/>
<line x1="297.4" y1="528.8" x2="297.4" y2="833.4" stroke="#5f96aa" stroke-width="0.8" opacity="0.6"/>
<line x1="354.2" y1="528.8" x2="354.2" y2="833.4" stroke="#5f96aa" stroke-width="0.8" opacity="0.6"/>
<line x1="410.99999999999994" y1="528.8" x2="410.99999999999994" y2="833.4" stroke="#5f96aa" stroke-width="0.8" opacity="0.6"/>
<line x1="467.79999999999995" y1="528.8" x2="467.79999999999995" y2="833.4" stroke="#5f96aa" stroke-width="0.8" opacity="0.6"/>
<rect x="34.6" y="528.8" width="446.59999999999997" height="304.6" fill="none" stroke="#2d4a56" stroke-width="1.1"/>
<line x1="31.6" y1="536.4" x2="34.6" y2="536.4" stroke="#222" stroke-width="0.8"/>
<text x="27.6" y="538.9" font-size="7" text-anchor="end" fill="#222" font-family="Liberation Sans">8°S</text>
<line x1="31.6" y1="593.4" x2="34.6" y2="593.4" stroke="#222" stroke-width="0.8"/>
<text x="27.6" y="595.9" font-size="7" text-anchor="end" fill="#222" font-family="Liberation Sans">10°S</text>
<line x1="31.6" y1="650.4" x2="34.6" y2="650.4" stroke="#222" stroke-width="0.8"/>
<text x="27.6" y="652.9" font-size="7" text-anchor="end" fill="#222" font-family="Liberation Sans">12°S</text>
<line x1="31.6" y1="707.4" x2="34.6" y2="707.4" stroke="#222" stroke-width="0.8"/>
<text x="27.6" y="709.9" font-size="7" text-anchor="end" fill="#222" font-family="Liberation Sans">14°S</text>
<line x1="31.6" y1="764.4" x2="34.6" y2="764.4" stroke="#222" stroke-width="0.8"/>
<text x="27.6" y="766.9" font-size="7" text-anchor="end" fill="#222" font-family="Liberation Sans">16°S</text>
<line x1="31.6" y1="821.4" x2="34.6" y2="821.4" stroke="#222" stroke-width="0.8"/>
<text x="27.6" y="823.9" font-size="7" text-anchor="end" fill="#222" font-family="Liberation Sans">18°S</text>
<line x1="70.2" y1="833.4" x2="70.2" y2="836.4" stroke="#222" stroke-width="0.8"/>
<text x="70.2" y="844.4" font-size="7" text-anchor="middle" fill="#222" font-family="Liberation Sans">94°E</text>
<line x1="127.0" y1="833.4" x2="127.0" y2="836.4" stroke="#222" stroke-width="0.8"/>
<text x="127.0" y="844.4" font-size="7" text-anchor="middle" fill="#222" font-family="Liberation Sans">96°E</text>
<line x1="183.8" y1="833.4" x2="183.8" y2="836.4" stroke="#222" stroke-width="0.8"/>
<text x="183.8" y="844.4" font-size="7" text-anchor="middle" fill="#222" font-family="Liberation Sans">98°E</text>
<line x1="240.59999999999997" y1="833.4" x2="240.59999999999997" y2="836.4" stroke="#222" stroke-width="0.8"/>
<text x="240.59999999999997" y="844.4" font-size="7" text-anchor="middle" fill="#222" font-family="Liberation Sans">100°E</text>
<line x1="297.4" y1="833.4" x2="297.4" y2="836.4" stroke="#222" stroke-width="0.8"/>
<text x="297.4" y="844.4" font-size="7" text-anchor="middle" fill="#222" font-family="Liberation Sans">102°E</text>
<line x1="354.2" y1="833.4" x2="354.2" y2="836.4" stroke="#222" stroke-width="0.8"/>
<text x="354.2" y="844.4" font-size="7" text-anchor="middle" fill="#222" font-family="Liberation Sans">104°E</text>
<line x1="410.99999999999994" y1="833.4" x2="410.99999999999994" y2="836.4" stroke="#222" stroke-width="0.8"/>
<text x="410.99999999999994" y="844.4" font-size="7" text-anchor="middle" fill="#222" font-family="Liberation Sans">106°E</text>
<line x1="467.79999999999995" y1="833.4" x2="467.79999999999995" y2="836.4" stroke="#222" stroke-width="0.8"/>
<text x="467.79999999999995" y="844.4" font-size="7" text-anchor="middle" fill="#222" font-family="Liberation Sans">108°E</text>
<text x="252.8" y="686.9" font-size="20" fill="#d42a2a" font-family="Liberation Sans">L</text>
<polyline points="149.9,654.2 158,667 153,671" fill="none" stroke="#222" stroke-width="1"/>
<circle cx="149.9" cy="654.2" r="1.6" fill="#111"/>
<text x="145.8" y="651.5" font-size="6.5" text-anchor="end" fill="#a33" font-family="Liberation Sans">31</text>
<text x="153" y="651.5" font-size="6.5" fill="#1a3a9a" font-family="Liberation Sans" font-weight="bold">060</text>
<text x="146.7" y="661.5" font-size="6.5" text-anchor="end" fill="#2a9a3a" font-family="Liberation Sans">26</text>
<text x="153" y="661.5" font-size="6.5" fill="#345" font-family="Liberation Sans">YPCC</text>
<line x1="390.3" y1="596.1" x2="401.4" y2="606.7" stroke="#111" stroke-width="1"/>
<line x1="391" y1="600" x2="395" y2="596" stroke="#111" stroke-width="0.8"/>
<circle cx="400.9" cy="606.4" r="1.6" fill="#111"/>
<text x="396" y="602" font-size="6.5" text-anchor="end" fill="#a44" opacity="0.8" font-family="Liberation Sans">25</text>
<text x="404.4" y="603" font-size="6.5" fill="#1a3a9a" font-family="Liberation Sans" font-weight="bold">090</text>
<text x="396.8" y="612" font-size="6.5" text-anchor="end" fill="#2a9a3a" font-family="Liberation Sans">25</text>
<text x="404.4" y="612" font-size="6.5" fill="#345" font-family="Liberation Sans">YPXM</text>
</svg>
<svg style="left:0;top:0" width="991" height="849" viewBox="0 0 991 849">
<clipPath id="gtaclip"><rect x="523.5" y="512.5" width="206.29999999999995" height="206.39999999999998"/></clipPath>
<rect x="523.5" y="512.5" width="206.29999999999995" height="206.39999999999998" fill="#93cce2"/>
<g clip-path="url(#gtaclip)">
<line x1="575.5" y1="512.5" x2="575.5" y2="718.9" stroke="#5a8fa3" stroke-width="0.5" opacity="0.8"/>
<line x1="627.2" y1="512.5" x2="627.2" y2="718.9" stroke="#5a8fa3" stroke-width="0.5" opacity="0.8"/>
<line x1="679.4" y1="512.5" x2="679.4" y2="718.9" stroke="#5a8fa3" stroke-width="0.5" opacity="0.8"/>
<line x1="523.5" y1="554.5" x2="729.8" y2="554.5" stroke="#5a8fa3" stroke-width="0.5" opacity="0.8"/>
<line x1="523.5" y1="606" x2="729.8" y2="606" stroke="#5a8fa3" stroke-width="0.5" opacity="0.8"/>
<line x1="523.5" y1="657.6" x2="729.8" y2="657.6" stroke="#5a8fa3" stroke-width="0.5" opacity="0.8"/>
<line x1="523.5" y1="710.2" x2="729.8" y2="710.2" stroke="#5a8fa3" stroke-width="0.5" opacity="0.8"/>
<path d="M683.4,512.6 L686,520 L688.4,525.2 L696.5,535.3 L706.6,545.4 L718.7,553.4 L726.8,562.5 L730,563 L730,523.2 L726.3,520.1 L724.8,512.6 Z" fill="#c9955c" stroke="#555" stroke-width="0.6"/>
<path d="M664.7,512.6 L671,512.6 L672,519 L668,520.5 Z" fill="#c9955c" stroke="#555" stroke-width="0.5"/>
<path d="M674.3,523 L678.3,525.5 L677.5,526.5 L674,524 Z" fill="#777"/>
<path d="M679.4,528 L684.4,535 L683.5,537 L679,530 Z" fill="#777"/>
<ellipse cx="702.8" cy="558" rx="1.6" ry="0.9" fill="#777"/>
<polyline points="524.4,570.7 538.9,570.7 553.3,582.2 560.0,582.2 556.0,584.0 552.0,581.0" fill="none" stroke="#d4e868" stroke-width="1.4" stroke-linejoin="round" stroke-linecap="round" />
<polyline points="524.4,575.5 533.3,582.2 533.3,586.6 546.6,596.6 553.3,600.0 566.6,608.8 580.0,610.0 593.3,612.2 601.0,618.2 608.8,623.3 617.7,627.7 631.0,630.0 635.4,631.0 640.0,628.0 636.0,624.0 646.0,632.0 642.0,638.0 648.0,646.0 644.0,649.0 651.0,648.8 675.4,648.8 680.0,648.0" fill="none" stroke="#d4e868" stroke-width="1.4" stroke-linejoin="round" stroke-linecap="round" />
<polyline points="633.0,624.0 638.0,635.0 645.0,640.0 648.0,647.0" fill="none" stroke="#d4e868" stroke-width="1.3" stroke-linejoin="round" stroke-linecap="round" />
<polyline points="592.1,618.8 600.0,619.5 617.7,636.6 627.7,638.8 636.5,649.9 651.0,647.7 675.4,638.8 684.3,636.6 695.4,638.8" fill="none" stroke="#2a2a8e" stroke-width="1.1" stroke-linejoin="round" stroke-linecap="round" />
<polyline points="613.2,583.3 616.0,581.0 621.0,585.5 613.2,590.0 617.7,593.3 633.2,612.2 642.0,613.7 649.9,625.5 658.7,626.6 673.2,632.1 679.8,636.6 686.5,631.0 697.6,629.3 709.8,625.5" fill="none" stroke="#c8204a" stroke-width="1.1" stroke-linejoin="round" stroke-linecap="round" />
<polyline points="679.8,636.6 690.0,640.0 700.0,643.0 705.0,644.0" fill="none" stroke="#c8204a" stroke-width="1.1" stroke-linejoin="round" stroke-linecap="round" />
<polyline points="676.5,648.8 682.0,645.5 693.0,643.2 705.3,643.9 700.0,646.0 688.0,647.0" fill="none" stroke="#f08a28" stroke-width="1.4" stroke-linejoin="round" stroke-linecap="round" />
<circle cx="592.1" cy="618.8" r="0.9" fill="#2a2a8e"/>
<circle cx="600" cy="619.5" r="0.9" fill="#2a2a8e"/>
<circle cx="617.7" cy="636.6" r="0.9" fill="#2a2a8e"/>
<circle cx="627.7" cy="638.8" r="0.9" fill="#2a2a8e"/>
<circle cx="636.5" cy="649.9" r="0.9" fill="#2a2a8e"/>
<circle cx="651" cy="647.7" r="0.9" fill="#2a2a8e"/>
<circle cx="675.4" cy="638.8" r="0.9" fill="#2a2a8e"/>
<circle cx="684.3" cy="636.6" r="0.9" fill="#2a2a8e"/>
<circle cx="621" cy="585.5" r="0.9" fill="#c8204a"/>
<circle cx="633.2" cy="612.2" r="0.9" fill="#c8204a"/>
<circle cx="642" cy="613.7" r="0.9" fill="#c8204a"/>
<circle cx="649.9" cy="625.5" r="0.9" fill="#c8204a"/>
<circle cx="658.7" cy="626.6" r="0.9" fill="#c8204a"/>
<circle cx="673.2" cy="632.1" r="0.9" fill="#c8204a"/>
<circle cx="697.6" cy="629.3" r="0.9" fill="#c8204a"/>
<circle cx="709.8" cy="625.5" r="0.9" fill="#c8204a"/>
<rect x="582" y="612.5" width="19" height="3.2" fill="#c8c8f0" opacity="0.8"/>
<text x="582" y="615.5" font-size="3.4" font-weight="bold" fill="#2a2a8e" text-anchor="start" font-family="Liberation Sans">MWPCM</text>
<text x="535" y="572.5" font-size="2.6" font-weight="normal" fill="#333" text-anchor="start" font-family="Liberation Sans">192</text>
<text x="555" y="590" font-size="2.6" font-weight="normal" fill="#333" text-anchor="start" font-family="Liberation Sans">240</text>
<text x="545" y="599" font-size="2.6" font-weight="normal" fill="#333" text-anchor="start" font-family="Liberation Sans">168</text>
<text x="606" y="628" font-size="2.6" font-weight="normal" fill="#333" text-anchor="start" font-family="Liberation Sans">96</text>
<text x="617" y="641" font-size="2.6" font-weight="normal" fill="#333" text-anchor="start" font-family="Liberation Sans">72</text>
<text x="625" y="654" font-size="2.6" font-weight="normal" fill="#333" text-anchor="start" font-family="Liberation Sans">24</text>
<text x="636" y="653" font-size="2.6" font-weight="normal" fill="#333" text-anchor="start" font-family="Liberation Sans">24</text>
<text x="642" y="652" font-size="2.6" font-weight="normal" fill="#333" text-anchor="start" font-family="Liberation Sans">48</text>
<text x="676" y="652" font-size="2.6" font-weight="normal" fill="#333" text-anchor="start" font-family="Liberation Sans">96</text>
<text x="682" y="649" font-size="2.6" font-weight="normal" fill="#333" text-anchor="start" font-family="Liberation Sans">24</text>
<text x="697" y="648" font-size="2.6" font-weight="normal" fill="#333" text-anchor="start" font-family="Liberation Sans">72</text>
<text x="641" y="617" font-size="2.6" font-weight="normal" fill="#333" text-anchor="start" font-family="Liberation Sans">120</text>
<text x="657" y="631" font-size="2.6" font-weight="normal" fill="#333" text-anchor="start" font-family="Liberation Sans">144</text>
<text x="611" y="592" font-size="2.6" font-weight="normal" fill="#333" text-anchor="start" font-family="Liberation Sans">240</text>
</g>
<rect x="523.5" y="512.5" width="206.29999999999995" height="206.39999999999998" fill="none" stroke="#333" stroke-width="0.7"/>
<text x="520" y="555.5" font-size="2.8" font-weight="normal" fill="#333" text-anchor="end" font-family="Liberation Sans">5°S</text>
<text x="520" y="607" font-size="2.8" font-weight="normal" fill="#333" text-anchor="end" font-family="Liberation Sans">10°S</text>
<text x="520" y="658.6" font-size="2.8" font-weight="normal" fill="#333" text-anchor="end" font-family="Liberation Sans">15°S</text>
<text x="520" y="711.2" font-size="2.8" font-weight="normal" fill="#333" text-anchor="end" font-family="Liberation Sans">20°S</text>
<text x="523.5" y="723.5" font-size="2.8" font-weight="normal" fill="#333" text-anchor="middle" font-family="Liberation Sans">80°E</text>
<text x="575.5" y="723.5" font-size="2.8" font-weight="normal" fill="#333" text-anchor="middle" font-family="Liberation Sans">85°E</text>
<text x="627.2" y="723.5" font-size="2.8" font-weight="normal" fill="#333" text-anchor="middle" font-family="Liberation Sans">90°E</text>
<text x="679.4" y="723.5" font-size="2.8" font-weight="normal" fill="#333" text-anchor="middle" font-family="Liberation Sans">100°E</text>
<text x="523.6" y="502.3" font-size="7.1" font-weight="bold" fill="#111" text-anchor="start" font-family="Liberation Sans" textLength="128.4" lengthAdjust="spacingAndGlyphs">98S INVEST - Model Track Guidance</text>
<text x="523.6" y="510.6" font-size="5.3" font-weight="bold" fill="#111" text-anchor="start" font-family="Liberation Sans" textLength="79.5" lengthAdjust="spacingAndGlyphs">Initialized at 00z Apr 23 2022</text>
<text x="665.2" y="510.6" font-size="4.6" font-weight="normal" fill="#444" text-anchor="start" font-family="Liberation Sans" textLength="64.5" lengthAdjust="spacingAndGlyphs">Levi Cowan - tropicaltidbits.com</text>
</svg>
<svg style="left:0;top:0" width="991" height="849" viewBox="0 0 991 849">
<clipPath id="gfsclip"><rect x="763.1" y="520.3" width="196.60000000000002" height="196.70000000000005"/></clipPath>
<rect x="763.1" y="520.3" width="196.60000000000002" height="196.70000000000005" fill="#93cce2"/>
<g clip-path="url(#gfsclip)">
<line x1="798.4" y1="520.3" x2="798.4" y2="717" stroke="#5a8fa3" stroke-width="0.5" opacity="0.8"/>
<line x1="837.5" y1="520.3" x2="837.5" y2="717" stroke="#5a8fa3" stroke-width="0.5" opacity="0.8"/>
<line x1="876.5" y1="520.3" x2="876.5" y2="717" stroke="#5a8fa3" stroke-width="0.5" opacity="0.8"/>
<line x1="915.8" y1="520.3" x2="915.8" y2="717" stroke="#5a8fa3" stroke-width="0.5" opacity="0.8"/>
<line x1="763.1" y1="524.5" x2="959.7" y2="524.5" stroke="#5a8fa3" stroke-width="0.5" opacity="0.8"/>
<line x1="763.1" y1="564" x2="959.7" y2="564" stroke="#5a8fa3" stroke-width="0.5" opacity="0.8"/>
<line x1="763.1" y1="603.3" x2="959.7" y2="603.3" stroke="#5a8fa3" stroke-width="0.5" opacity="0.8"/>
<line x1="763.1" y1="642.4" x2="959.7" y2="642.4" stroke="#5a8fa3" stroke-width="0.5" opacity="0.8"/>
<line x1="763.1" y1="682.2" x2="959.7" y2="682.2" stroke="#5a8fa3" stroke-width="0.5" opacity="0.8"/>
<path d="M910.3,520.2 L918.3,531.1 L923.4,542.2 L930.5,553.3 L938.5,558.4 L945.6,563.4 L952.7,569.5 L960,570.5 L960,542 L956.7,541.2 L950.6,535.2 L944.6,528 L944.6,520.2 Z" fill="#c9955c" stroke="#555" stroke-width="0.5"/>
<ellipse cx="903" cy="531" rx="1" ry="2.2" transform="rotate(-30 903 531)" fill="#c9955c" stroke="#555" stroke-width="0.5"/>
<ellipse cx="906.5" cy="539.5" rx="1.6" ry="2.2" transform="rotate(-30 906.5 539.5)" fill="#c9955c" stroke="#555" stroke-width="0.5"/>
<ellipse cx="913" cy="549" rx="0.9" ry="3.5" transform="rotate(-25 913 549)" fill="#c9955c" stroke="#555" stroke-width="0.5"/>
<ellipse cx="934" cy="567" rx="1" ry="0.7" fill="#666"/>
<polyline points="763.1,585.2 773.0,589.4 787.0,594.0 806.0,598.9 817.3,603.6 840.0,610.0 870.0,618.0 895.0,628.0 910.0,632.0" fill="none" stroke="#2aafc0" stroke-width="0.8" stroke-linejoin="round" stroke-linecap="round" />
<polyline points="765.4,580.0 772.0,587.5 782.0,594.0 798.4,608.3 830.0,610.0 860.0,616.0 890.0,630.0 915.0,636.0" fill="none" stroke="#2aafc0" stroke-width="0.8" stroke-linejoin="round" stroke-linecap="round" />
<polyline points="763.1,599.3 782.4,599.8 798.4,605.0 820.0,607.0 850.0,614.0 880.0,624.0 905.0,634.0" fill="none" stroke="#2aafc0" stroke-width="0.8" stroke-linejoin="round" stroke-linecap="round" />
<polyline points="763.1,607.3 777.7,607.3 798.4,608.3 830.0,614.0 860.0,620.0 890.0,628.0 920.0,640.0" fill="none" stroke="#2aafc0" stroke-width="0.8" stroke-linejoin="round" stroke-linecap="round" />
<polyline points="763.1,614.4 783.4,613.0 811.6,613.5 824.8,616.3 850.0,622.0 880.0,632.0 900.0,640.0 925.0,645.0" fill="none" stroke="#2aafc0" stroke-width="0.8" stroke-linejoin="round" stroke-linecap="round" />
<polyline points="763.1,621.5 801.3,620.5 830.0,617.7 860.0,625.0 890.0,638.0 915.0,646.0 935.0,648.0" fill="none" stroke="#2aafc0" stroke-width="0.8" stroke-linejoin="round" stroke-linecap="round" />
<polyline points="782.4,628.5 811.6,626.2 830.0,629.0 860.0,634.0 890.0,644.0 912.0,650.0" fill="none" stroke="#2aafc0" stroke-width="0.8" stroke-linejoin="round" stroke-linecap="round" />
<polyline points="776.0,589.0 783.0,587.0 797.0,589.0 806.0,596.0 817.0,604.0" fill="none" stroke="#2aafc0" stroke-width="0.8" stroke-linejoin="round" stroke-linecap="round" />
<polyline points="770.0,598.0 790.0,596.0 810.0,599.0 835.0,604.0 860.0,612.0 885.0,622.0 905.0,630.0" fill="none" stroke="#2aafc0" stroke-width="0.8" stroke-linejoin="round" stroke-linecap="round" />
<polyline points="763.0,592.0 785.0,601.0 805.0,604.0 830.0,607.0 856.0,611.0 876.0,620.0 898.0,626.0 930.0,632.0" fill="none" stroke="#2aafc0" stroke-width="0.8" stroke-linejoin="round" stroke-linecap="round" />
<polyline points="840.0,588.0 847.0,583.0 860.0,584.0 870.0,590.0 878.0,600.0 880.0,612.0 890.0,622.0" fill="none" stroke="#2aafc0" stroke-width="0.8" stroke-linejoin="round" stroke-linecap="round" />
<polyline points="812.0,592.0 830.0,593.0 845.0,600.0 855.0,607.0 870.0,613.0" fill="none" stroke="#2aafc0" stroke-width="0.8" stroke-linejoin="round" stroke-linecap="round" />
<polyline points="890.0,590.0 900.0,597.0 905.0,610.0 910.0,622.0" fill="none" stroke="#2aafc0" stroke-width="0.8" stroke-linejoin="round" stroke-linecap="round" />
<polyline points="853.0,585.0 862.0,588.0 868.0,598.0 873.0,606.0" fill="none" stroke="#2aafc0" stroke-width="0.8" stroke-linejoin="round" stroke-linecap="round" />
<rect x="770.5" y="588.4" width="5" height="2" fill="#1a8a9a" opacity="0.8"/>
<rect x="803.5" y="597.9" width="5" height="2" fill="#1a8a9a" opacity="0.8"/>
<rect x="837.5" y="609" width="5" height="2" fill="#1a8a9a" opacity="0.8"/>
<rect x="892.5" y="627" width="5" height="2" fill="#1a8a9a" opacity="0.8"/>
<rect x="769.5" y="586.5" width="5" height="2" fill="#1a8a9a" opacity="0.8"/>
<rect x="795.9" y="607.3" width="5" height="2" fill="#1a8a9a" opacity="0.8"/>
<rect x="857.5" y="615" width="5" height="2" fill="#1a8a9a" opacity="0.8"/>
<rect x="779.9" y="598.8" width="5" height="2" fill="#1a8a9a" opacity="0.8"/>
<rect x="817.5" y="606" width="5" height="2" fill="#1a8a9a" opacity="0.8"/>
<rect x="877.5" y="623" width="5" height="2" fill="#1a8a9a" opacity="0.8"/>
<rect x="775.2" y="606.3" width="5" height="2" fill="#1a8a9a" opacity="0.8"/>
<rect x="827.5" y="613" width="5" height="2" fill="#1a8a9a" opacity="0.8"/>
<rect x="887.5" y="627" width="5" height="2" fill="#1a8a9a" opacity="0.8"/>
<rect x="780.9" y="612" width="5" height="2" fill="#1a8a9a" opacity="0.8"/>
<rect x="822.3" y="615.3" width="5" height="2" fill="#1a8a9a" opacity="0.8"/>
<rect x="877.5" y="631" width="5" height="2" fill="#1a8a9a" opacity="0.8"/>
<rect x="798.8" y="619.5" width="5" height="2" fill="#1a8a9a" opacity="0.8"/>
<rect x="857.5" y="624" width="5" height="2" fill="#1a8a9a" opacity="0.8"/>
<rect x="912.5" y="645" width="5" height="2" fill="#1a8a9a" opacity="0.8"/>
<rect x="809.1" y="625.2" width="5" height="2" fill="#1a8a9a" opacity="0.8"/>
<rect x="857.5" y="633" width="5" height="2" fill="#1a8a9a" opacity="0.8"/>
<polyline points="880.0,612.0 882.0,600.0 890.0,590.0 911.0,583.0 921.5,590.0 921.5,600.0 918.0,612.0 913.0,625.0 905.0,632.0" fill="none" stroke="#22a050" stroke-width="0.8" stroke-linejoin="round" stroke-linecap="round" />
<polyline points="847.0,590.0 855.0,584.0 868.0,583.0 880.0,592.0 881.0,605.0 873.0,610.0" fill="none" stroke="#22a050" stroke-width="0.8" stroke-linejoin="round" stroke-linecap="round" />
<polyline points="808.4,626.5 814.5,632.6 815.5,641.6 811.6,644.0 798.4,640.3" fill="none" stroke="#2aafc0" stroke-width="0.7" stroke-linejoin="round" stroke-linecap="round" />
<polyline points="798.4,640.3 811.6,644.0 820.0,647.9" fill="none" stroke="#b8e060" stroke-width="1.6" stroke-linejoin="round" stroke-linecap="round" />
<ellipse cx="820" cy="598.5" rx="5" ry="1.8" fill="#c8e060"/>
<ellipse cx="861" cy="590" rx="4" ry="2" fill="#c8e060"/>
<ellipse cx="940" cy="638" rx="4" ry="3" fill="#c8e060"/>
<polyline points="771.7,584.8 785.7,589.4 799.7,592.3 813.7,595.0 827.8,598.6 841.8,599.4 855.8,602.7 869.8,607.0 883.8,610.2 897.8,617.5 911.8,616.7" fill="none" stroke="#1f9cae" stroke-width="0.7" stroke-linejoin="round" stroke-linecap="round" />
<rect x="797.5" y="591.4" width="4.4" height="1.8" fill="#1a8a9a" opacity="0.7"/>
<rect x="839.6" y="598.5" width="4.4" height="1.8" fill="#1a8a9a" opacity="0.7"/>
<rect x="881.6" y="609.3" width="4.4" height="1.8" fill="#1a8a9a" opacity="0.7"/>
<polyline points="781.7,587.7 795.2,594.4 808.6,599.9 822.0,599.2 835.5,603.2 848.9,601.6 862.3,605.7 875.7,609.5 889.2,605.7 902.6,610.0 916.0,611.9" fill="none" stroke="#2aafc0" stroke-width="0.7" stroke-linejoin="round" stroke-linecap="round" />
<rect x="806.4" y="599.0" width="4.4" height="1.8" fill="#1a8a9a" opacity="0.7"/>
<rect x="846.7" y="600.7" width="4.4" height="1.8" fill="#1a8a9a" opacity="0.7"/>
<rect x="887.0" y="604.8" width="4.4" height="1.8" fill="#1a8a9a" opacity="0.7"/>
<polyline points="765.5,627.6 781.4,628.3 797.4,630.8 813.3,628.9 829.2,629.8 845.2,631.4 861.1,626.7 877.1,624.9 893.0,629.5 909.0,628.3 924.9,624.9" fill="none" stroke="#2aafc0" stroke-width="0.7" stroke-linejoin="round" stroke-linecap="round" />
<rect x="795.2" y="629.9" width="4.4" height="1.8" fill="#1a8a9a" opacity="0.7"/>
<rect x="843.0" y="630.5" width="4.4" height="1.8" fill="#1a8a9a" opacity="0.7"/>
<rect x="890.8" y="628.6" width="4.4" height="1.8" fill="#1a8a9a" opacity="0.7"/>
<polyline points="791.7,599.2 806.7,605.4 821.7,613.1 836.7,614.2 851.8,618.0 866.8,612.7 881.8,620.3 896.8,625.1 911.8,624.0 926.9,629.9 941.9,638.0" fill="none" stroke="#2aafc0" stroke-width="0.7" stroke-linejoin="round" stroke-linecap="round" />
<rect x="819.5" y="612.2" width="4.4" height="1.8" fill="#1a8a9a" opacity="0.7"/>
<rect x="864.6" y="611.8" width="4.4" height="1.8" fill="#1a8a9a" opacity="0.7"/>
<rect x="909.6" y="623.1" width="4.4" height="1.8" fill="#1a8a9a" opacity="0.7"/>
<polyline points="783.2,611.0 795.7,612.5 808.1,614.2 820.6,614.9 833.0,615.2 845.4,611.7 857.9,613.2 870.3,611.3 882.8,612.9 895.2,607.5 907.7,616.1" fill="none" stroke="#2aafc0" stroke-width="0.7" stroke-linejoin="round" stroke-linecap="round" />
<rect x="805.9" y="613.3" width="4.4" height="1.8" fill="#1a8a9a" opacity="0.7"/>
<rect x="843.2" y="610.8" width="4.4" height="1.8" fill="#1a8a9a" opacity="0.7"/>
<rect x="880.6" y="612.0" width="4.4" height="1.8" fill="#1a8a9a" opacity="0.7"/>
<polyline points="799.7,599.7 813.6,604.4 827.6,613.2 841.6,612.3 855.6,616.2 869.6,616.4 883.6,618.2 897.6,619.6 911.6,633.7 925.6,632.8 939.6,637.3" fill="none" stroke="#2aafc0" stroke-width="0.7" stroke-linejoin="round" stroke-linecap="round" />
<rect x="825.4" y="612.3" width="4.4" height="1.8" fill="#1a8a9a" opacity="0.7"/>
<rect x="867.4" y="615.5" width="4.4" height="1.8" fill="#1a8a9a" opacity="0.7"/>
<rect x="909.4" y="632.8" width="4.4" height="1.8" fill="#1a8a9a" opacity="0.7"/>
<polyline points="777.6,612.0 793.1,615.5 808.5,618.1 824.0,617.1 839.4,621.3 854.9,620.0 870.3,611.8 885.8,617.1 901.3,623.2 916.7,621.5 932.2,624.6" fill="none" stroke="#1f9cae" stroke-width="0.7" stroke-linejoin="round" stroke-linecap="round" />
<rect x="806.3" y="617.2" width="4.4" height="1.8" fill="#1a8a9a" opacity="0.7"/>
<rect x="852.7" y="619.1" width="4.4" height="1.8" fill="#1a8a9a" opacity="0.7"/>
<rect x="899.1" y="622.3" width="4.4" height="1.8" fill="#1a8a9a" opacity="0.7"/>
<polyline points="764.0,578.8 779.8,588.4 795.7,593.6 811.6,598.9 827.5,605.3 843.3,607.6 859.2,609.4 875.1,611.0 891.0,619.3 906.8,626.1 922.7,629.8" fill="none" stroke="#1f9cae" stroke-width="0.7" stroke-linejoin="round" stroke-linecap="round" />
<rect x="793.5" y="592.7" width="4.4" height="1.8" fill="#1a8a9a" opacity="0.7"/>
<rect x="841.1" y="606.7" width="4.4" height="1.8" fill="#1a8a9a" opacity="0.7"/>
<rect x="888.8" y="618.4" width="4.4" height="1.8" fill="#1a8a9a" opacity="0.7"/>
<polyline points="765.5,626.5 779.0,628.6 792.5,628.0 806.1,629.4 819.6,628.4 833.1,619.5 846.7,624.5 860.2,619.4 873.7,617.0 887.2,619.5 900.8,619.5" fill="none" stroke="#2aafc0" stroke-width="0.7" stroke-linejoin="round" stroke-linecap="round" />
<rect x="790.3" y="627.1" width="4.4" height="1.8" fill="#1a8a9a" opacity="0.7"/>
<rect x="830.9" y="618.6" width="4.4" height="1.8" fill="#1a8a9a" opacity="0.7"/>
<rect x="871.5" y="616.1" width="4.4" height="1.8" fill="#1a8a9a" opacity="0.7"/>
<polyline points="788.0,610.3 800.0,618.1 811.9,621.3 823.8,625.5 835.7,628.2 847.6,630.2 859.6,634.7 871.5,636.5 883.4,634.6 895.3,638.0 907.2,642.4" fill="none" stroke="#2aafc0" stroke-width="0.7" stroke-linejoin="round" stroke-linecap="round" />
<rect x="809.7" y="620.4" width="4.4" height="1.8" fill="#1a8a9a" opacity="0.7"/>
<rect x="845.4" y="629.3" width="4.4" height="1.8" fill="#1a8a9a" opacity="0.7"/>
<rect x="881.2" y="633.7" width="4.4" height="1.8" fill="#1a8a9a" opacity="0.7"/>
<polyline points="775.2,598.8 787.6,603.8 800.1,610.4 812.5,617.5 825.0,618.8 837.4,626.5 849.8,621.8 862.3,627.2 874.7,633.4 887.2,641.5 899.6,649.0" fill="none" stroke="#2aafc0" stroke-width="0.7" stroke-linejoin="round" stroke-linecap="round" />
<rect x="797.9" y="609.5" width="4.4" height="1.8" fill="#1a8a9a" opacity="0.7"/>
<rect x="835.2" y="625.6" width="4.4" height="1.8" fill="#1a8a9a" opacity="0.7"/>
<rect x="872.5" y="632.5" width="4.4" height="1.8" fill="#1a8a9a" opacity="0.7"/>
<polyline points="796.2,617.5 807.3,618.7 818.4,620.8 829.4,620.3 840.5,619.9 851.6,618.3 862.7,615.3 873.8,619.7 884.9,617.6 895.9,624.3 907.0,622.2" fill="none" stroke="#30b8c8" stroke-width="0.7" stroke-linejoin="round" stroke-linecap="round" />
<rect x="816.2" y="619.9" width="4.4" height="1.8" fill="#1a8a9a" opacity="0.7"/>
<rect x="849.4" y="617.4" width="4.4" height="1.8" fill="#1a8a9a" opacity="0.7"/>
<rect x="882.7" y="616.7" width="4.4" height="1.8" fill="#1a8a9a" opacity="0.7"/>
<polyline points="796.7,617.5 808.7,622.2 820.7,623.5 832.7,627.8 844.6,627.2 856.6,625.0 868.6,630.6 880.6,631.7 892.6,631.9 904.6,637.7 916.6,637.9" fill="none" stroke="#2aafc0" stroke-width="0.7" stroke-linejoin="round" stroke-linecap="round" />
<rect x="818.5" y="622.6" width="4.4" height="1.8" fill="#1a8a9a" opacity="0.7"/>
<rect x="854.4" y="624.1" width="4.4" height="1.8" fill="#1a8a9a" opacity="0.7"/>
<rect x="890.4" y="631.0" width="4.4" height="1.8" fill="#1a8a9a" opacity="0.7"/>
<polyline points="790.1,614.0 805.3,620.0 820.5,623.0 835.8,625.2 851.0,629.3 866.2,623.3 881.5,631.0 896.7,632.6 911.9,632.6 927.2,642.5 942.4,644.4" fill="none" stroke="#2aafc0" stroke-width="0.7" stroke-linejoin="round" stroke-linecap="round" />
<rect x="818.3" y="622.1" width="4.4" height="1.8" fill="#1a8a9a" opacity="0.7"/>
<rect x="864.0" y="622.4" width="4.4" height="1.8" fill="#1a8a9a" opacity="0.7"/>
<rect x="909.7" y="631.7" width="4.4" height="1.8" fill="#1a8a9a" opacity="0.7"/>
<polyline points="766.2,585.5 781.9,590.0 797.6,593.3 813.4,594.9 829.1,595.5 844.8,601.0 860.6,602.7 876.3,603.3 892.0,610.2 907.8,607.8 923.5,614.3" fill="none" stroke="#30b8c8" stroke-width="0.7" stroke-linejoin="round" stroke-linecap="round" />
<rect x="795.4" y="592.4" width="4.4" height="1.8" fill="#1a8a9a" opacity="0.7"/>
<rect x="842.6" y="600.1" width="4.4" height="1.8" fill="#1a8a9a" opacity="0.7"/>
<rect x="889.8" y="609.3" width="4.4" height="1.8" fill="#1a8a9a" opacity="0.7"/>
<polyline points="792.0,603.2 806.4,609.8 820.8,612.2 835.2,618.6 849.6,616.7 863.9,624.8 878.3,624.5 892.7,632.0 907.1,631.9 921.5,635.7 935.9,642.3" fill="none" stroke="#2aafc0" stroke-width="0.7" stroke-linejoin="round" stroke-linecap="round" />
<rect x="818.6" y="611.3" width="4.4" height="1.8" fill="#1a8a9a" opacity="0.7"/>
<rect x="861.7" y="623.9" width="4.4" height="1.8" fill="#1a8a9a" opacity="0.7"/>
<rect x="904.9" y="631.0" width="4.4" height="1.8" fill="#1a8a9a" opacity="0.7"/>
<polyline points="888.6,619.7 885.4,624.2 890.9,629.0 884.0,630.9 880.0,628.4" fill="none" stroke="#1a8a50" stroke-width="0.7" stroke-linejoin="round" stroke-linecap="round" />
<polyline points="925.8,622.1 924.2,623.2 917.7,622.3 924.4,624.8 929.4,622.8" fill="none" stroke="#1a8a50" stroke-width="0.7" stroke-linejoin="round" stroke-linecap="round" />
<polyline points="924.4,636.0 923.6,632.7 916.8,636.6 922.9,634.3 926.4,633.4" fill="none" stroke="#2aafc0" stroke-width="0.7" stroke-linejoin="round" stroke-linecap="round" />
<polyline points="901.1,633.1 897.6,633.2 891.1,630.8 888.1,635.0 882.9,637.6" fill="none" stroke="#22a050" stroke-width="0.7" stroke-linejoin="round" stroke-linecap="round" />
<polyline points="931.8,638.6 933.4,640.6 939.5,638.1 935.6,639.6 939.3,641.0" fill="none" stroke="#22a050" stroke-width="0.7" stroke-linejoin="round" stroke-linecap="round" />
<polyline points="907.8,645.7 903.1,643.1 907.9,639.3 914.5,637.2 915.5,638.8" fill="none" stroke="#22a050" stroke-width="0.7" stroke-linejoin="round" stroke-linecap="round" />
<polyline points="918.1,645.8 923.7,648.3 927.3,651.3 929.7,648.9 931.0,650.2" fill="none" stroke="#1a8a50" stroke-width="0.7" stroke-linejoin="round" stroke-linecap="round" />
<polyline points="934.3,617.5 937.9,613.0 931.6,609.6 937.8,613.9 940.2,611.5" fill="none" stroke="#2aafc0" stroke-width="0.7" stroke-linejoin="round" stroke-linecap="round" />
<polyline points="890.2,618.8 885.1,618.6 885.8,619.0 883.9,621.4 888.6,624.0" fill="none" stroke="#22a050" stroke-width="0.7" stroke-linejoin="round" stroke-linecap="round" />
<polyline points="894.1,624.2 891.2,622.8 896.3,627.2 898.8,626.0 899.3,622.2" fill="none" stroke="#30c040" stroke-width="0.7" stroke-linejoin="round" stroke-linecap="round" />
<polyline points="894.5,623.8 901.3,621.0 894.7,617.9 899.2,620.2 905.3,620.2" fill="none" stroke="#22a050" stroke-width="0.7" stroke-linejoin="round" stroke-linecap="round" />
<polyline points="932.5,639.2 936.8,635.9 943.7,637.0 941.6,632.1 944.4,631.6" fill="none" stroke="#2aafc0" stroke-width="0.7" stroke-linejoin="round" stroke-linecap="round" />
<polyline points="895.6,623.2 896.9,618.8 891.0,615.4 893.5,611.0 898.2,608.4" fill="none" stroke="#1a8a50" stroke-width="0.7" stroke-linejoin="round" stroke-linecap="round" />
<polyline points="915.0,636.6 908.3,636.0 912.5,632.4 906.1,629.2 903.1,628.6" fill="none" stroke="#1a8a50" stroke-width="0.7" stroke-linejoin="round" stroke-linecap="round" />
<polyline points="912.0,624.6 915.3,628.9 920.0,630.5 921.0,629.0 922.4,633.6" fill="none" stroke="#22a050" stroke-width="0.7" stroke-linejoin="round" stroke-linecap="round" />
<polyline points="912.2,624.4 917.3,621.4 916.9,617.6 922.2,618.6 929.1,615.0" fill="none" stroke="#30c040" stroke-width="0.7" stroke-linejoin="round" stroke-linecap="round" />
<polyline points="914.8,613.7 919.3,617.5 913.5,621.9 917.4,623.0 918.1,620.6" fill="none" stroke="#22a050" stroke-width="0.7" stroke-linejoin="round" stroke-linecap="round" />
<polyline points="899.8,642.0 896.7,643.4 900.3,643.7 903.9,639.3 898.9,643.5" fill="none" stroke="#22a050" stroke-width="0.7" stroke-linejoin="round" stroke-linecap="round" />
<polyline points="885.1,630.0 890.1,633.4 884.1,632.8 878.2,632.0 884.0,629.9" fill="none" stroke="#30c040" stroke-width="0.7" stroke-linejoin="round" stroke-linecap="round" />
<polyline points="925.9,618.9 931.8,623.1 938.8,618.2 931.8,616.1 932.1,615.4" fill="none" stroke="#22a050" stroke-width="0.7" stroke-linejoin="round" stroke-linecap="round" />
<polyline points="911.2,623.5 906.5,620.5 909.2,616.1 903.1,612.5 909.6,616.4" fill="none" stroke="#1a8a50" stroke-width="0.7" stroke-linejoin="round" stroke-linecap="round" />
<polyline points="910.7,634.6 905.5,635.5 906.7,636.7 908.1,631.7 901.7,629.5" fill="none" stroke="#2aafc0" stroke-width="0.7" stroke-linejoin="round" stroke-linecap="round" />
<ellipse cx="910" cy="630" rx="20" ry="10" fill="#22b048" opacity="0.45"/>
<ellipse cx="925" cy="636" rx="10" ry="6" fill="#22b048" opacity="0.4"/>
<polyline points="817.5,607.3 846.8,611.4 873.0,615.4 893.2,624.5 903.3,629.5 913.4,625.5 933.6,620.9" fill="none" stroke="#111" stroke-width="1.6" stroke-linejoin="round" stroke-linecap="round" />
<circle cx="817.5" cy="607.3" r="1.3" fill="#111"/>
<circle cx="846.8" cy="611.4" r="1.3" fill="#111"/>
<circle cx="873" cy="615.4" r="1.3" fill="#111"/>
<circle cx="903.3" cy="629.5" r="1.3" fill="#111"/>
<circle cx="933.6" cy="620.9" r="1.3" fill="#111"/>
<rect x="808.4" y="600.5" width="19.200000000000045" height="5.800000000000045" rx="1" fill="#fff" opacity="0.9"/>
<text x="809.4" y="605.5" font-size="4" font-weight="bold" fill="#111" text-anchor="start" font-family="Liberation Sans" textLength="17.2" lengthAdjust="spacingAndGlyphs">1007mb</text>
<rect x="812.5" y="609.0" width="11.100000000000023" height="5.400000000000068" rx="1" fill="#fff" opacity="0.9"/>
<text x="813.5" y="613.6" font-size="4" font-weight="bold" fill="#111" text-anchor="start" font-family="Liberation Sans" textLength="9.1" lengthAdjust="spacingAndGlyphs">144</text>
<rect x="836.7" y="603.9000000000001" width="19.199999999999932" height="5.399999999999954" rx="1" fill="#fff" opacity="0.9"/>
<text x="837.7" y="608.5" font-size="4" font-weight="bold" fill="#111" text-anchor="start" font-family="Liberation Sans" textLength="17.2" lengthAdjust="spacingAndGlyphs">1006mb</text>
<rect x="841.7" y="613.0" width="9.099999999999909" height="4.800000000000045" rx="1" fill="#fff" opacity="0.9"/>
<text x="842.7" y="617" font-size="4" font-weight="bold" fill="#111" text-anchor="start" font-family="Liberation Sans" textLength="7.1" lengthAdjust="spacingAndGlyphs">120</text>
<rect x="862" y="607.5" width="20" height="5.800000000000045" rx="1" fill="#fff" opacity="0.9"/>
<text x="863" y="612.5" font-size="4" font-weight="bold" fill="#111" text-anchor="start" font-family="Liberation Sans" textLength="18" lengthAdjust="spacingAndGlyphs">1005mb</text>
<rect x="868" y="616.0" width="8" height="5.300000000000045" rx="1" fill="#fff" opacity="0.9"/>
<text x="869" y="620.5" font-size="4" font-weight="bold" fill="#111" text-anchor="start" font-family="Liberation Sans" textLength="6" lengthAdjust="spacingAndGlyphs">96</text>
<rect x="892.2" y="624.7" width="21.199999999999932" height="5.300000000000045" rx="1" fill="#fff" opacity="0.9"/>
<text x="893.2" y="629.2" font-size="4" font-weight="bold" fill="#111" text-anchor="start" font-family="Liberation Sans" textLength="19.2" lengthAdjust="spacingAndGlyphs">1004mb</text>
<rect x="900.3" y="631.6" width="6.2000000000000455" height="4.999999999999977" rx="1" fill="#fff" opacity="0.9"/>
<text x="901.3" y="635.8" font-size="4" font-weight="bold" fill="#111" text-anchor="start" font-family="Liberation Sans" textLength="4.2" lengthAdjust="spacingAndGlyphs">48</text>
<rect x="922.5" y="614.4000000000001" width="21.100000000000023" height="5.199999999999909" rx="1" fill="#fff" opacity="0.9"/>
<text x="923.5" y="618.8" font-size="4" font-weight="bold" fill="#111" text-anchor="start" font-family="Liberation Sans" textLength="19.1" lengthAdjust="spacingAndGlyphs">1004mb</text>
</g>
<rect x="763.1" y="520.3" width="196.60000000000002" height="196.70000000000005" fill="none" stroke="#333" stroke-width="0.7"/>
<text x="760" y="525.5" font-size="2.8" font-weight="normal" fill="#333" text-anchor="end" font-family="Liberation Sans">0°</text>
<text x="760" y="565" font-size="2.8" font-weight="normal" fill="#333" text-anchor="end" font-family="Liberation Sans">5°S</text>
<text x="760" y="604.3" font-size="2.8" font-weight="normal" fill="#333" text-anchor="end" font-family="Liberation Sans">10°S</text>
<text x="760" y="643.4" font-size="2.8" font-weight="normal" fill="#333" text-anchor="end" font-family="Liberation Sans">15°S</text>
<text x="760" y="683.2" font-size="2.8" font-weight="normal" fill="#333" text-anchor="end" font-family="Liberation Sans">20°S</text>
<text x="798.4" y="722" font-size="2.8" font-weight="normal" fill="#333" text-anchor="middle" font-family="Liberation Sans">85°E</text>
<text x="837.5" y="722" font-size="2.8" font-weight="normal" fill="#333" text-anchor="middle" font-family="Liberation Sans">90°E</text>
<text x="876.5" y="722" font-size="2.8" font-weight="normal" fill="#333" text-anchor="middle" font-family="Liberation Sans">95°E</text>
<text x="915.8" y="722" font-size="2.8" font-weight="normal" fill="#333" text-anchor="middle" font-family="Liberation Sans">100°E</text>
<text x="955" y="722" font-size="2.8" font-weight="normal" fill="#333" text-anchor="middle" font-family="Liberation Sans">105°E</text>
<rect x="962.2" y="529.6" width="7.099999999999909" height="19.999999999999932" fill="#3aaabf"/>
<rect x="962.2" y="549.3" width="7.099999999999909" height="20.10000000000007" fill="#22aa4a"/>
<rect x="962.2" y="569.1" width="7.099999999999909" height="20.099999999999955" fill="#e8ee34"/>
<rect x="962.2" y="588.9" width="7.099999999999909" height="20.10000000000007" fill="#f08a28"/>
<rect x="962.2" y="608.7" width="7.099999999999909" height="20.099999999999955" fill="#e02222"/>
<rect x="962.2" y="628.5" width="7.099999999999909" height="20.099999999999955" fill="#5a0a0a"/>
<rect x="962.2" y="648.3" width="7.099999999999909" height="20.000000000000046" fill="#d0145c"/>
<rect x="962.2" y="668" width="7.099999999999909" height="20.099999999999955" fill="#f048f0"/>
<rect x="962.2" y="687.8" width="7.099999999999909" height="20.10000000000007" fill="#6848e0"/>
<path d="M962.2,529.8 L965.75,520.5 L969.3,529.8 Z" fill="#1a4a9a"/>
<path d="M962.2,707.4 L965.75,717 L969.3,707.4 Z" fill="#2a2a90"/>
<text x="972" y="530.8000000000001" font-size="3.4" font-weight="normal" fill="#333" text-anchor="start" font-family="Liberation Sans">1010</text>
<text x="972" y="550.6" font-size="3.4" font-weight="normal" fill="#333" text-anchor="start" font-family="Liberation Sans">1005</text>
<text x="972" y="570.3000000000001" font-size="3.4" font-weight="normal" fill="#333" text-anchor="start" font-family="Liberation Sans">1000</text>
<text x="972" y="590.1" font-size="3.4" font-weight="normal" fill="#333" text-anchor="start" font-family="Liberation Sans">990</text>
<text x="972" y="609.9000000000001" font-size="3.4" font-weight="normal" fill="#333" text-anchor="start" font-family="Liberation Sans">980</text>
<text x="972" y="629.7" font-size="3.4" font-weight="normal" fill="#333" text-anchor="start" font-family="Liberation Sans">970</text>
<text x="972" y="649.5" font-size="3.4" font-weight="normal" fill="#333" text-anchor="start" font-family="Liberation Sans">960</text>
<text x="972" y="669.2" font-size="3.4" font-weight="normal" fill="#333" text-anchor="start" font-family="Liberation Sans">950</text>
<text x="972" y="689.0" font-size="3.4" font-weight="normal" fill="#333" text-anchor="start" font-family="Liberation Sans">940</text>
<text x="972" y="708.8000000000001" font-size="3.4" font-weight="normal" fill="#333" text-anchor="start" font-family="Liberation Sans">930</text>
<text x="762.9" y="510.3" font-size="7.1" font-weight="bold" fill="#111" text-anchor="start" font-family="Liberation Sans" textLength="175.4" lengthAdjust="spacingAndGlyphs">98S INVEST - GEFS Tracks and Min. MSLP (hPa)</text>
<text x="762.9" y="518.6" font-size="5.3" font-weight="bold" fill="#111" text-anchor="start" font-family="Liberation Sans" textLength="82" lengthAdjust="spacingAndGlyphs">Initialized at 00z Apr 23 2022</text>
<text x="892.9" y="518.6" font-size="4.6" font-weight="normal" fill="#444" text-anchor="start" font-family="Liberation Sans" textLength="66.3" lengthAdjust="spacingAndGlyphs">Levi Cowan - tropicaltidbits.com</text>
</svg>
<svg style="left:0;top:0" width="991" height="849" viewBox="0 0 991 849">
<rect x="522.5" y="846.9" width="190.5" height="10" fill="#93cce2" stroke="#333" stroke-width="0.7"/>
<path d="M664.5,847.2 L713,847.2 L713,849 L666,849 Z" fill="#c9955c"/>
<path d="M714,854 L717,845.5 L720,854 Z" fill="#1a4a9a"/>
<text x="522.5" y="836.1" font-size="7.1" font-weight="bold" fill="#111" text-anchor="start" font-family="Liberation Sans" textLength="170.4" lengthAdjust="spacingAndGlyphs">98S INVEST - GEPS Tracks and Min. MSLP (hPa)</text>
<text x="522.5" y="844.3" font-size="5.3" font-weight="bold" fill="#111" text-anchor="start" font-family="Liberation Sans" textLength="79.5" lengthAdjust="spacingAndGlyphs">Initialized at 00z Apr 23 2022</text>
<text x="648" y="844.3" font-size="4.6" font-weight="normal" fill="#444" text-anchor="start" font-family="Liberation Sans" textLength="64.5" lengthAdjust="spacingAndGlyphs">Levi Cowan - tropicaltidbits.com</text>
</svg>
<div class="t" style="left:6.46px;top:12.70px;font-size:31.69px;color:#16136a;transform:scaleX(0.9804);">Invest 98S</div>
<div class="t" style="left:7.10px;top:57.20px;font-size:12.65px;color:#151515;transform:scaleX(1.0123);">As of 06:00 UTC Apr 23, 2022:</div>
<div class="t" style="left:5.91px;top:94.70px;font-size:20.2px;color:#151515;transform:scaleX(1.0215);">Location: 13.1°S 100.6°E</div>
<div class="t" style="left:5.85px;top:122.70px;font-size:20.2px;color:#151515;transform:scaleX(1.0548);">Maximum Winds: 20 kt&nbsp; Gusts: N/A</div>
<div class="t" style="left:5.83px;top:150.70px;font-size:20.2px;color:#151515;transform:scaleX(1.0667);">Minimum Central Pressure: 1008 mb</div>
<div class="t" style="left:5.84px;top:178.70px;font-size:20.2px;color:#151515;transform:scaleX(1.0607);">Environmental Pressure: N/A</div>
<div class="t" style="left:5.86px;top:206.70px;font-size:20.2px;color:#151515;transform:scaleX(1.0539);">Radius of Circulation: N/A</div>
<div class="t" style="left:5.83px;top:234.70px;font-size:20.2px;color:#151515;transform:scaleX(1.0700);">Radius of Maximum wind: N/A</div>
<div class="t" style="left:597.20px;top:9.60px;font-size:17.44px;color:#404040;transform:scaleX(1.0020);">Infrared Satellite Image (click for loop):</div>
<div class="t" style="left:132.94px;top:441.80px;font-size:16.86px;color:#404040;transform:scaleX(1.0108);">Surface Plot (click to enlarge):</div>
<div class="t" style="left:6.60px;top:472.60px;font-size:13.66px;color:#151515;transform:scaleX(1.0046);">Note that the most recent hour may not be fully populated with stations yet.</div>
<div class="t" style="left:585.07px;top:441.00px;font-size:17.15px;color:#404040;transform:scaleX(1.0171);">Model Forecasts (<a style="color:#2b67a3;text-decoration:underline">list of model acronyms</a>):</div>
<div class="t" style="left:535.28px;top:473.10px;font-size:15.41px;color:#16136a;transform:scaleX(0.9543);">Global + Hurricane Models</div>
<div class="t" style="left:816.83px;top:473.20px;font-size:15.41px;color:#16136a;transform:scaleX(0.8885);">GFS Ensembles</div>
<div class="t" style="left:535.98px;top:743.80px;font-size:15.84px;color:#151515;transform:scaleX(1.0373);"><a>00z</a>&nbsp; | &nbsp;<a>06z</a>&nbsp; | &nbsp;<a>12z</a>&nbsp; | &nbsp;<a>18z</a></div>
<div class="t" style="left:779.58px;top:751.80px;font-size:15.84px;color:#151515;transform:scaleX(1.0392);"><a>00z</a>&nbsp; | &nbsp;<a>06z</a>&nbsp; | &nbsp;<a>12z</a>&nbsp; | &nbsp;<a>18z</a></div>
<div class="t" style="left:568.13px;top:800.20px;font-size:15.12px;color:#16136a;transform:scaleX(0.8960);">GEPS Ensembles</div>
<div class="t" style="left:804.45px;top:808.40px;font-size:15.41px;color:#16136a;transform:scaleX(0.9681);">Intensity Guidance</div>
<div class="t" style="left:745.92px;top:832.20px;font-size:14.24px;color:#2b67a3;transform:scaleX(0.9421);"><a style="color:#2b67a3;text-decoration:underline">Model Intensity Forecasts</a></div>
<div class="t" style="left:33.81px;top:504.80px;font-size:11.34px;color:#111;transform:scaleX(1.0932);">Marine Surface Plot Near 98S INVEST 05:45Z–07:15Z Apr 23 2022</div>
<div class="t" style="left:34.38px;top:518.40px;font-size:10.47px;color:#d83a3a;transform:scaleX(1.0465);">"L" marks storm location as of 06Z Apr 23</div>
<div class="t" style="left:364.24px;top:518.70px;font-size:8.14px;color:#222;transform:scaleX(1.0132);">Levi Cowan - tropicaltidbits.com</div>
</body></html>
